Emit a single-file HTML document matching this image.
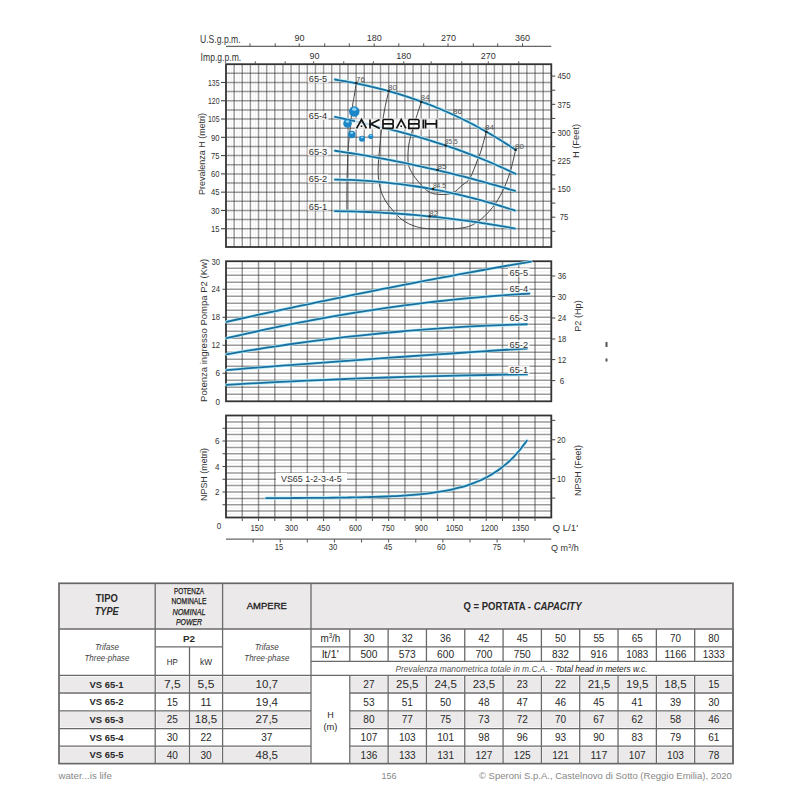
<!DOCTYPE html><html><head><meta charset="utf-8"><style>html,body{margin:0;padding:0;background:#fff;width:800px;height:800px;overflow:hidden}svg{display:block}</style></head><body>
<svg width="800" height="800" viewBox="0 0 800 800" font-family='"Liberation Sans", sans-serif'>
<rect width="800" height="800" fill="#fff"/>
<line x1="228.93" y1="64.2" x2="228.93" y2="247" stroke="#efefef" stroke-width="0.8"/>
<line x1="231.2" y1="64.2" x2="231.2" y2="247" stroke="#efefef" stroke-width="0.8"/>
<line x1="237.06" y1="64.2" x2="237.06" y2="247" stroke="#efefef" stroke-width="0.8"/>
<line x1="239.34" y1="64.2" x2="239.34" y2="247" stroke="#efefef" stroke-width="0.8"/>
<line x1="245.19" y1="64.2" x2="245.19" y2="247" stroke="#efefef" stroke-width="0.8"/>
<line x1="247.47" y1="64.2" x2="247.47" y2="247" stroke="#efefef" stroke-width="0.8"/>
<line x1="253.33" y1="64.2" x2="253.33" y2="247" stroke="#efefef" stroke-width="0.8"/>
<line x1="255.6" y1="64.2" x2="255.6" y2="247" stroke="#efefef" stroke-width="0.8"/>
<line x1="261.46" y1="64.2" x2="261.46" y2="247" stroke="#efefef" stroke-width="0.8"/>
<line x1="263.73" y1="64.2" x2="263.73" y2="247" stroke="#efefef" stroke-width="0.8"/>
<line x1="269.59" y1="64.2" x2="269.59" y2="247" stroke="#efefef" stroke-width="0.8"/>
<line x1="271.87" y1="64.2" x2="271.87" y2="247" stroke="#efefef" stroke-width="0.8"/>
<line x1="277.72" y1="64.2" x2="277.72" y2="247" stroke="#efefef" stroke-width="0.8"/>
<line x1="280" y1="64.2" x2="280" y2="247" stroke="#efefef" stroke-width="0.8"/>
<line x1="285.86" y1="64.2" x2="285.86" y2="247" stroke="#efefef" stroke-width="0.8"/>
<line x1="288.13" y1="64.2" x2="288.13" y2="247" stroke="#efefef" stroke-width="0.8"/>
<line x1="293.99" y1="64.2" x2="293.99" y2="247" stroke="#efefef" stroke-width="0.8"/>
<line x1="296.26" y1="64.2" x2="296.26" y2="247" stroke="#efefef" stroke-width="0.8"/>
<line x1="302.12" y1="64.2" x2="302.12" y2="247" stroke="#efefef" stroke-width="0.8"/>
<line x1="304.4" y1="64.2" x2="304.4" y2="247" stroke="#efefef" stroke-width="0.8"/>
<line x1="310.25" y1="64.2" x2="310.25" y2="247" stroke="#efefef" stroke-width="0.8"/>
<line x1="312.53" y1="64.2" x2="312.53" y2="247" stroke="#efefef" stroke-width="0.8"/>
<line x1="318.39" y1="64.2" x2="318.39" y2="247" stroke="#efefef" stroke-width="0.8"/>
<line x1="320.66" y1="64.2" x2="320.66" y2="247" stroke="#efefef" stroke-width="0.8"/>
<line x1="326.52" y1="64.2" x2="326.52" y2="247" stroke="#efefef" stroke-width="0.8"/>
<line x1="328.79" y1="64.2" x2="328.79" y2="247" stroke="#efefef" stroke-width="0.8"/>
<line x1="334.65" y1="64.2" x2="334.65" y2="247" stroke="#efefef" stroke-width="0.8"/>
<line x1="336.93" y1="64.2" x2="336.93" y2="247" stroke="#efefef" stroke-width="0.8"/>
<line x1="342.78" y1="64.2" x2="342.78" y2="247" stroke="#efefef" stroke-width="0.8"/>
<line x1="345.06" y1="64.2" x2="345.06" y2="247" stroke="#efefef" stroke-width="0.8"/>
<line x1="350.92" y1="64.2" x2="350.92" y2="247" stroke="#efefef" stroke-width="0.8"/>
<line x1="353.19" y1="64.2" x2="353.19" y2="247" stroke="#efefef" stroke-width="0.8"/>
<line x1="359.05" y1="64.2" x2="359.05" y2="247" stroke="#efefef" stroke-width="0.8"/>
<line x1="361.32" y1="64.2" x2="361.32" y2="247" stroke="#efefef" stroke-width="0.8"/>
<line x1="367.18" y1="64.2" x2="367.18" y2="247" stroke="#efefef" stroke-width="0.8"/>
<line x1="369.46" y1="64.2" x2="369.46" y2="247" stroke="#efefef" stroke-width="0.8"/>
<line x1="375.31" y1="64.2" x2="375.31" y2="247" stroke="#efefef" stroke-width="0.8"/>
<line x1="377.59" y1="64.2" x2="377.59" y2="247" stroke="#efefef" stroke-width="0.8"/>
<line x1="383.45" y1="64.2" x2="383.45" y2="247" stroke="#efefef" stroke-width="0.8"/>
<line x1="385.72" y1="64.2" x2="385.72" y2="247" stroke="#efefef" stroke-width="0.8"/>
<line x1="391.58" y1="64.2" x2="391.58" y2="247" stroke="#efefef" stroke-width="0.8"/>
<line x1="393.85" y1="64.2" x2="393.85" y2="247" stroke="#efefef" stroke-width="0.8"/>
<line x1="399.71" y1="64.2" x2="399.71" y2="247" stroke="#efefef" stroke-width="0.8"/>
<line x1="401.99" y1="64.2" x2="401.99" y2="247" stroke="#efefef" stroke-width="0.8"/>
<line x1="407.84" y1="64.2" x2="407.84" y2="247" stroke="#efefef" stroke-width="0.8"/>
<line x1="410.12" y1="64.2" x2="410.12" y2="247" stroke="#efefef" stroke-width="0.8"/>
<line x1="415.98" y1="64.2" x2="415.98" y2="247" stroke="#efefef" stroke-width="0.8"/>
<line x1="418.25" y1="64.2" x2="418.25" y2="247" stroke="#efefef" stroke-width="0.8"/>
<line x1="424.11" y1="64.2" x2="424.11" y2="247" stroke="#efefef" stroke-width="0.8"/>
<line x1="426.38" y1="64.2" x2="426.38" y2="247" stroke="#efefef" stroke-width="0.8"/>
<line x1="432.24" y1="64.2" x2="432.24" y2="247" stroke="#efefef" stroke-width="0.8"/>
<line x1="434.52" y1="64.2" x2="434.52" y2="247" stroke="#efefef" stroke-width="0.8"/>
<line x1="440.37" y1="64.2" x2="440.37" y2="247" stroke="#efefef" stroke-width="0.8"/>
<line x1="442.65" y1="64.2" x2="442.65" y2="247" stroke="#efefef" stroke-width="0.8"/>
<line x1="448.51" y1="64.2" x2="448.51" y2="247" stroke="#efefef" stroke-width="0.8"/>
<line x1="450.78" y1="64.2" x2="450.78" y2="247" stroke="#efefef" stroke-width="0.8"/>
<line x1="456.64" y1="64.2" x2="456.64" y2="247" stroke="#efefef" stroke-width="0.8"/>
<line x1="458.91" y1="64.2" x2="458.91" y2="247" stroke="#efefef" stroke-width="0.8"/>
<line x1="464.77" y1="64.2" x2="464.77" y2="247" stroke="#efefef" stroke-width="0.8"/>
<line x1="467.05" y1="64.2" x2="467.05" y2="247" stroke="#efefef" stroke-width="0.8"/>
<line x1="472.9" y1="64.2" x2="472.9" y2="247" stroke="#efefef" stroke-width="0.8"/>
<line x1="475.18" y1="64.2" x2="475.18" y2="247" stroke="#efefef" stroke-width="0.8"/>
<line x1="481.04" y1="64.2" x2="481.04" y2="247" stroke="#efefef" stroke-width="0.8"/>
<line x1="483.31" y1="64.2" x2="483.31" y2="247" stroke="#efefef" stroke-width="0.8"/>
<line x1="489.17" y1="64.2" x2="489.17" y2="247" stroke="#efefef" stroke-width="0.8"/>
<line x1="491.44" y1="64.2" x2="491.44" y2="247" stroke="#efefef" stroke-width="0.8"/>
<line x1="497.3" y1="64.2" x2="497.3" y2="247" stroke="#efefef" stroke-width="0.8"/>
<line x1="499.58" y1="64.2" x2="499.58" y2="247" stroke="#efefef" stroke-width="0.8"/>
<line x1="505.43" y1="64.2" x2="505.43" y2="247" stroke="#efefef" stroke-width="0.8"/>
<line x1="507.71" y1="64.2" x2="507.71" y2="247" stroke="#efefef" stroke-width="0.8"/>
<line x1="513.57" y1="64.2" x2="513.57" y2="247" stroke="#efefef" stroke-width="0.8"/>
<line x1="515.84" y1="64.2" x2="515.84" y2="247" stroke="#efefef" stroke-width="0.8"/>
<line x1="521.7" y1="64.2" x2="521.7" y2="247" stroke="#efefef" stroke-width="0.8"/>
<line x1="523.97" y1="64.2" x2="523.97" y2="247" stroke="#efefef" stroke-width="0.8"/>
<line x1="529.83" y1="64.2" x2="529.83" y2="247" stroke="#efefef" stroke-width="0.8"/>
<line x1="532.11" y1="64.2" x2="532.11" y2="247" stroke="#efefef" stroke-width="0.8"/>
<line x1="537.96" y1="64.2" x2="537.96" y2="247" stroke="#efefef" stroke-width="0.8"/>
<line x1="540.24" y1="64.2" x2="540.24" y2="247" stroke="#efefef" stroke-width="0.8"/>
<line x1="546.1" y1="64.2" x2="546.1" y2="247" stroke="#efefef" stroke-width="0.8"/>
<line x1="548.37" y1="64.2" x2="548.37" y2="247" stroke="#efefef" stroke-width="0.8"/>
<line x1="234.13" y1="64.2" x2="234.13" y2="247" stroke="#2a2a2a" stroke-width="1.5" stroke-opacity="0.47"/>
<line x1="242.26" y1="64.2" x2="242.26" y2="247" stroke="#2a2a2a" stroke-width="1.5" stroke-opacity="0.47"/>
<line x1="250.4" y1="64.2" x2="250.4" y2="247" stroke="#2a2a2a" stroke-width="1.5" stroke-opacity="0.47"/>
<line x1="258.53" y1="64.2" x2="258.53" y2="247" stroke="#2a2a2a" stroke-width="1.5" stroke-opacity="0.47"/>
<line x1="266.66" y1="64.2" x2="266.66" y2="247" stroke="#2a2a2a" stroke-width="1.5" stroke-opacity="0.47"/>
<line x1="274.79" y1="64.2" x2="274.79" y2="247" stroke="#2a2a2a" stroke-width="1.5" stroke-opacity="0.47"/>
<line x1="282.93" y1="64.2" x2="282.93" y2="247" stroke="#2a2a2a" stroke-width="1.5" stroke-opacity="0.47"/>
<line x1="291.06" y1="64.2" x2="291.06" y2="247" stroke="#2a2a2a" stroke-width="1.5" stroke-opacity="0.47"/>
<line x1="299.19" y1="64.2" x2="299.19" y2="247" stroke="#2a2a2a" stroke-width="1.5" stroke-opacity="0.47"/>
<line x1="307.32" y1="64.2" x2="307.32" y2="247" stroke="#2a2a2a" stroke-width="1.5" stroke-opacity="0.47"/>
<line x1="315.46" y1="64.2" x2="315.46" y2="247" stroke="#2a2a2a" stroke-width="1.5" stroke-opacity="0.47"/>
<line x1="323.59" y1="64.2" x2="323.59" y2="247" stroke="#2a2a2a" stroke-width="1.5" stroke-opacity="0.47"/>
<line x1="331.72" y1="64.2" x2="331.72" y2="247" stroke="#2a2a2a" stroke-width="1.5" stroke-opacity="0.47"/>
<line x1="339.85" y1="64.2" x2="339.85" y2="247" stroke="#2a2a2a" stroke-width="1.5" stroke-opacity="0.47"/>
<line x1="347.99" y1="64.2" x2="347.99" y2="247" stroke="#2a2a2a" stroke-width="1.5" stroke-opacity="0.47"/>
<line x1="356.12" y1="64.2" x2="356.12" y2="247" stroke="#2a2a2a" stroke-width="1.5" stroke-opacity="0.47"/>
<line x1="364.25" y1="64.2" x2="364.25" y2="247" stroke="#2a2a2a" stroke-width="1.5" stroke-opacity="0.47"/>
<line x1="372.38" y1="64.2" x2="372.38" y2="247" stroke="#2a2a2a" stroke-width="1.5" stroke-opacity="0.47"/>
<line x1="380.52" y1="64.2" x2="380.52" y2="247" stroke="#2a2a2a" stroke-width="1.5" stroke-opacity="0.47"/>
<line x1="388.65" y1="64.2" x2="388.65" y2="247" stroke="#2a2a2a" stroke-width="1.5" stroke-opacity="0.47"/>
<line x1="396.78" y1="64.2" x2="396.78" y2="247" stroke="#2a2a2a" stroke-width="1.5" stroke-opacity="0.47"/>
<line x1="404.91" y1="64.2" x2="404.91" y2="247" stroke="#2a2a2a" stroke-width="1.5" stroke-opacity="0.47"/>
<line x1="413.05" y1="64.2" x2="413.05" y2="247" stroke="#2a2a2a" stroke-width="1.5" stroke-opacity="0.47"/>
<line x1="421.18" y1="64.2" x2="421.18" y2="247" stroke="#2a2a2a" stroke-width="1.5" stroke-opacity="0.47"/>
<line x1="429.31" y1="64.2" x2="429.31" y2="247" stroke="#2a2a2a" stroke-width="1.5" stroke-opacity="0.47"/>
<line x1="437.44" y1="64.2" x2="437.44" y2="247" stroke="#2a2a2a" stroke-width="1.5" stroke-opacity="0.47"/>
<line x1="445.58" y1="64.2" x2="445.58" y2="247" stroke="#2a2a2a" stroke-width="1.5" stroke-opacity="0.47"/>
<line x1="453.71" y1="64.2" x2="453.71" y2="247" stroke="#2a2a2a" stroke-width="1.5" stroke-opacity="0.47"/>
<line x1="461.84" y1="64.2" x2="461.84" y2="247" stroke="#2a2a2a" stroke-width="1.5" stroke-opacity="0.47"/>
<line x1="469.97" y1="64.2" x2="469.97" y2="247" stroke="#2a2a2a" stroke-width="1.5" stroke-opacity="0.47"/>
<line x1="478.11" y1="64.2" x2="478.11" y2="247" stroke="#2a2a2a" stroke-width="1.5" stroke-opacity="0.47"/>
<line x1="486.24" y1="64.2" x2="486.24" y2="247" stroke="#2a2a2a" stroke-width="1.5" stroke-opacity="0.47"/>
<line x1="494.37" y1="64.2" x2="494.37" y2="247" stroke="#2a2a2a" stroke-width="1.5" stroke-opacity="0.47"/>
<line x1="502.5" y1="64.2" x2="502.5" y2="247" stroke="#2a2a2a" stroke-width="1.5" stroke-opacity="0.47"/>
<line x1="510.64" y1="64.2" x2="510.64" y2="247" stroke="#2a2a2a" stroke-width="1.5" stroke-opacity="0.47"/>
<line x1="518.77" y1="64.2" x2="518.77" y2="247" stroke="#2a2a2a" stroke-width="1.5" stroke-opacity="0.47"/>
<line x1="526.9" y1="64.2" x2="526.9" y2="247" stroke="#2a2a2a" stroke-width="1.5" stroke-opacity="0.47"/>
<line x1="535.03" y1="64.2" x2="535.03" y2="247" stroke="#2a2a2a" stroke-width="1.5" stroke-opacity="0.47"/>
<line x1="543.17" y1="64.2" x2="543.17" y2="247" stroke="#2a2a2a" stroke-width="1.5" stroke-opacity="0.47"/>
<line x1="226" y1="73.34" x2="551.3" y2="73.34" stroke="#2a2a2a" stroke-width="1.5" stroke-opacity="0.47"/>
<line x1="226" y1="82.48" x2="551.3" y2="82.48" stroke="#2a2a2a" stroke-width="1.5" stroke-opacity="0.47"/>
<line x1="226" y1="91.62" x2="551.3" y2="91.62" stroke="#2a2a2a" stroke-width="1.5" stroke-opacity="0.47"/>
<line x1="226" y1="100.76" x2="551.3" y2="100.76" stroke="#2a2a2a" stroke-width="1.5" stroke-opacity="0.47"/>
<line x1="226" y1="109.9" x2="551.3" y2="109.9" stroke="#2a2a2a" stroke-width="1.5" stroke-opacity="0.47"/>
<line x1="226" y1="119.04" x2="551.3" y2="119.04" stroke="#2a2a2a" stroke-width="1.5" stroke-opacity="0.47"/>
<line x1="226" y1="128.18" x2="551.3" y2="128.18" stroke="#2a2a2a" stroke-width="1.5" stroke-opacity="0.47"/>
<line x1="226" y1="137.32" x2="551.3" y2="137.32" stroke="#2a2a2a" stroke-width="1.5" stroke-opacity="0.47"/>
<line x1="226" y1="146.46" x2="551.3" y2="146.46" stroke="#2a2a2a" stroke-width="1.5" stroke-opacity="0.47"/>
<line x1="226" y1="155.6" x2="551.3" y2="155.6" stroke="#2a2a2a" stroke-width="1.5" stroke-opacity="0.47"/>
<line x1="226" y1="164.74" x2="551.3" y2="164.74" stroke="#2a2a2a" stroke-width="1.5" stroke-opacity="0.47"/>
<line x1="226" y1="173.88" x2="551.3" y2="173.88" stroke="#2a2a2a" stroke-width="1.5" stroke-opacity="0.47"/>
<line x1="226" y1="183.02" x2="551.3" y2="183.02" stroke="#2a2a2a" stroke-width="1.5" stroke-opacity="0.47"/>
<line x1="226" y1="192.16" x2="551.3" y2="192.16" stroke="#2a2a2a" stroke-width="1.5" stroke-opacity="0.47"/>
<line x1="226" y1="201.3" x2="551.3" y2="201.3" stroke="#2a2a2a" stroke-width="1.5" stroke-opacity="0.47"/>
<line x1="226" y1="210.44" x2="551.3" y2="210.44" stroke="#2a2a2a" stroke-width="1.5" stroke-opacity="0.47"/>
<line x1="226" y1="219.58" x2="551.3" y2="219.58" stroke="#2a2a2a" stroke-width="1.5" stroke-opacity="0.47"/>
<line x1="226" y1="228.72" x2="551.3" y2="228.72" stroke="#2a2a2a" stroke-width="1.5" stroke-opacity="0.47"/>
<line x1="226" y1="237.86" x2="551.3" y2="237.86" stroke="#2a2a2a" stroke-width="1.5" stroke-opacity="0.47"/>
<rect x="226" y="64.2" width="325.3" height="182.8" fill="none" stroke="#333" stroke-width="1.8"/>
<line x1="226" y1="46.4" x2="551.3" y2="46.4" stroke="#666" stroke-width="1.2"/>
<line x1="250" y1="43.3" x2="250" y2="46.4" stroke="#555" stroke-width="1.0"/>
<line x1="275.2" y1="43.3" x2="275.2" y2="46.4" stroke="#555" stroke-width="1.0"/>
<line x1="299.2" y1="43.3" x2="299.2" y2="46.4" stroke="#555" stroke-width="1.0"/>
<line x1="324.7" y1="43.3" x2="324.7" y2="46.4" stroke="#555" stroke-width="1.0"/>
<line x1="349.3" y1="43.3" x2="349.3" y2="46.4" stroke="#555" stroke-width="1.0"/>
<line x1="374.2" y1="43.3" x2="374.2" y2="46.4" stroke="#555" stroke-width="1.0"/>
<line x1="398.8" y1="43.3" x2="398.8" y2="46.4" stroke="#555" stroke-width="1.0"/>
<line x1="423.7" y1="43.3" x2="423.7" y2="46.4" stroke="#555" stroke-width="1.0"/>
<line x1="448" y1="43.3" x2="448" y2="46.4" stroke="#555" stroke-width="1.0"/>
<line x1="473.3" y1="43.3" x2="473.3" y2="46.4" stroke="#555" stroke-width="1.0"/>
<line x1="497.7" y1="43.3" x2="497.7" y2="46.4" stroke="#555" stroke-width="1.0"/>
<line x1="522.5" y1="43.3" x2="522.5" y2="46.4" stroke="#555" stroke-width="1.0"/>
<text x="299.5" y="41.2" font-size="9" text-anchor="middle" fill="#333">90</text>
<text x="374.2" y="41.2" font-size="9" text-anchor="middle" fill="#333">180</text>
<text x="448.5" y="41.2" font-size="9" text-anchor="middle" fill="#333">270</text>
<text x="522.5" y="41.2" font-size="9" text-anchor="middle" fill="#333">360</text>
<text x="200" y="43" font-size="10.3" text-anchor="start" fill="#333" textLength="40.6" lengthAdjust="spacingAndGlyphs">U.S.g.p.m.</text>
<line x1="255.25" y1="61.3" x2="255.25" y2="64.2" stroke="#555" stroke-width="1.0"/>
<line x1="285.2" y1="61.3" x2="285.2" y2="64.2" stroke="#555" stroke-width="1.0"/>
<line x1="313.7" y1="61.3" x2="313.7" y2="64.2" stroke="#555" stroke-width="1.0"/>
<line x1="343.75" y1="61.3" x2="343.75" y2="64.2" stroke="#555" stroke-width="1.0"/>
<line x1="373.3" y1="61.3" x2="373.3" y2="64.2" stroke="#555" stroke-width="1.0"/>
<line x1="403.75" y1="61.3" x2="403.75" y2="64.2" stroke="#555" stroke-width="1.0"/>
<line x1="431.2" y1="61.3" x2="431.2" y2="64.2" stroke="#555" stroke-width="1.0"/>
<line x1="461.75" y1="61.3" x2="461.75" y2="64.2" stroke="#555" stroke-width="1.0"/>
<line x1="488.3" y1="61.3" x2="488.3" y2="64.2" stroke="#555" stroke-width="1.0"/>
<line x1="518.75" y1="61.3" x2="518.75" y2="64.2" stroke="#555" stroke-width="1.0"/>
<text x="314.5" y="58.6" font-size="9" text-anchor="middle" fill="#333">90</text>
<text x="403.75" y="58.6" font-size="9" text-anchor="middle" fill="#333">180</text>
<text x="488.3" y="58.6" font-size="9" text-anchor="middle" fill="#333">270</text>
<text x="200.6" y="61.3" font-size="10" text-anchor="start" fill="#333" textLength="40.6" lengthAdjust="spacingAndGlyphs">Imp.g.p.m.</text>
<line x1="221" y1="82.48" x2="226" y2="82.48" stroke="#444" stroke-width="1.1"/>
<text x="219.5" y="85.68" font-size="8.6" text-anchor="end" fill="#333" textLength="11.5" lengthAdjust="spacingAndGlyphs">135</text>
<line x1="221" y1="100.76" x2="226" y2="100.76" stroke="#444" stroke-width="1.1"/>
<text x="219.5" y="103.96" font-size="8.6" text-anchor="end" fill="#333" textLength="11.5" lengthAdjust="spacingAndGlyphs">120</text>
<line x1="221" y1="119.04" x2="226" y2="119.04" stroke="#444" stroke-width="1.1"/>
<text x="219.5" y="122.24" font-size="8.6" text-anchor="end" fill="#333" textLength="11.5" lengthAdjust="spacingAndGlyphs">105</text>
<line x1="221" y1="137.32" x2="226" y2="137.32" stroke="#444" stroke-width="1.1"/>
<text x="219.5" y="140.52" font-size="8.6" text-anchor="end" fill="#333" textLength="8.5" lengthAdjust="spacingAndGlyphs">90</text>
<line x1="221" y1="155.6" x2="226" y2="155.6" stroke="#444" stroke-width="1.1"/>
<text x="219.5" y="158.8" font-size="8.6" text-anchor="end" fill="#333" textLength="8.5" lengthAdjust="spacingAndGlyphs">75</text>
<line x1="221" y1="173.88" x2="226" y2="173.88" stroke="#444" stroke-width="1.1"/>
<text x="219.5" y="177.08" font-size="8.6" text-anchor="end" fill="#333" textLength="8.5" lengthAdjust="spacingAndGlyphs">60</text>
<line x1="221" y1="192.16" x2="226" y2="192.16" stroke="#444" stroke-width="1.1"/>
<text x="219.5" y="195.36" font-size="8.6" text-anchor="end" fill="#333" textLength="8.5" lengthAdjust="spacingAndGlyphs">45</text>
<line x1="221" y1="210.44" x2="226" y2="210.44" stroke="#444" stroke-width="1.1"/>
<text x="219.5" y="213.64" font-size="8.6" text-anchor="end" fill="#333" textLength="8.5" lengthAdjust="spacingAndGlyphs">30</text>
<line x1="221" y1="228.72" x2="226" y2="228.72" stroke="#444" stroke-width="1.1"/>
<text x="219.5" y="231.92" font-size="8.6" text-anchor="end" fill="#333" textLength="8.5" lengthAdjust="spacingAndGlyphs">15</text>
<text x="0" y="0" font-size="9" text-anchor="middle" dominant-baseline="central" fill="#333" transform="translate(202.4,154) rotate(-90)" textLength="82" lengthAdjust="spacingAndGlyphs">Prevalenza H (metri)</text>
<line x1="551.3" y1="76.1" x2="555.3" y2="76.1" stroke="#444" stroke-width="1.0"/>
<line x1="551.3" y1="90.21" x2="555.3" y2="90.21" stroke="#444" stroke-width="1.0"/>
<line x1="551.3" y1="104.32" x2="555.3" y2="104.32" stroke="#444" stroke-width="1.0"/>
<line x1="551.3" y1="118.43" x2="555.3" y2="118.43" stroke="#444" stroke-width="1.0"/>
<line x1="551.3" y1="132.54" x2="555.3" y2="132.54" stroke="#444" stroke-width="1.0"/>
<line x1="551.3" y1="146.65" x2="555.3" y2="146.65" stroke="#444" stroke-width="1.0"/>
<line x1="551.3" y1="160.76" x2="555.3" y2="160.76" stroke="#444" stroke-width="1.0"/>
<line x1="551.3" y1="174.87" x2="555.3" y2="174.87" stroke="#444" stroke-width="1.0"/>
<line x1="551.3" y1="188.98" x2="555.3" y2="188.98" stroke="#444" stroke-width="1.0"/>
<line x1="551.3" y1="203.09" x2="555.3" y2="203.09" stroke="#444" stroke-width="1.0"/>
<line x1="551.3" y1="217.2" x2="555.3" y2="217.2" stroke="#444" stroke-width="1.0"/>
<line x1="551.3" y1="231.31" x2="555.3" y2="231.31" stroke="#444" stroke-width="1.0"/>
<text x="564" y="79.3" font-size="8.6" text-anchor="middle" fill="#333" textLength="13" lengthAdjust="spacingAndGlyphs">450</text>
<text x="564" y="107.8" font-size="8.6" text-anchor="middle" fill="#333" textLength="13" lengthAdjust="spacingAndGlyphs">375</text>
<text x="564" y="135.5" font-size="8.6" text-anchor="middle" fill="#333" textLength="13" lengthAdjust="spacingAndGlyphs">300</text>
<text x="564" y="163.95" font-size="8.6" text-anchor="middle" fill="#333" textLength="13" lengthAdjust="spacingAndGlyphs">225</text>
<text x="564" y="191.9" font-size="8.6" text-anchor="middle" fill="#333" textLength="13" lengthAdjust="spacingAndGlyphs">150</text>
<text x="564" y="220.4" font-size="8.6" text-anchor="middle" fill="#333" textLength="8.5" lengthAdjust="spacingAndGlyphs">75</text>
<text x="0" y="0" font-size="9" text-anchor="middle" dominant-baseline="central" fill="#333" transform="translate(575.8,141) rotate(-90)" textLength="34" lengthAdjust="spacingAndGlyphs">H (Feet)</text>
<path d="M356.25,83.1 C355.94,85.08 355.02,91.14 354.4,95 C353.77,98.86 353.23,100.42 352.5,106.25 C351.77,112.08 350.73,122.71 350,130 C349.27,137.29 348.57,142.5 348.1,150 C347.63,157.5 347.4,167.5 347.2,175 C347,182.5 346.95,189 346.9,195 C346.85,201 346.9,208.33 346.9,211" fill="none" stroke="#444" stroke-width="1.0"/>
<path d="M388.75,91.25 C388.12,93.96 386.14,101.67 385,107.5 C383.86,113.33 382.73,120 381.9,126.25 C381.07,132.5 380.63,137.71 380,145 C379.37,152.29 378.1,162.92 378.1,170 C378.1,177.08 378.85,182.5 380,187.5 C381.15,192.5 382.92,196.25 385,200 C387.08,203.75 389.58,206.67 392.5,210 C395.42,213.33 398.75,217.29 402.5,220 C406.25,222.71 410.42,224.79 415,226.25 C419.58,227.71 422.29,228.44 430,228.75 C437.71,229.06 453.33,229.24 461.25,228.1 C469.17,226.96 472.29,225.33 477.5,221.9 C482.71,218.47 488.33,212.61 492.5,207.5 C496.67,202.39 499.58,197.08 502.5,191.25 C505.42,185.42 507.82,179.38 510,172.5 C512.18,165.62 514.67,153.75 515.6,150" fill="none" stroke="#444" stroke-width="1.0"/>
<path d="M421.25,101.9 C420.42,104.5 417.71,112.82 416.25,117.5 C414.79,122.18 413.75,125.42 412.5,130 C411.25,134.58 409.5,140 408.75,145 C408,150 407.88,156.17 408,160 C408.12,163.83 408.33,165.08 409.5,168 C410.67,170.92 412.83,174.46 415,177.5 C417.17,180.54 420,183.75 422.5,186.25 C425,188.75 427.08,191.14 430,192.5 C432.92,193.86 436.25,194.3 440,194.4 C443.75,194.5 448.75,194.67 452.5,193.1 C456.25,191.53 459.58,187.5 462.5,185 C465.42,182.5 467.5,182.27 470,178.1 C472.5,173.93 475.62,164.68 477.5,160 C479.38,155.32 479.79,154.68 481.25,150 C482.71,145.32 485.42,134.92 486.25,131.9" fill="none" stroke="#444" stroke-width="1.0"/>
<path d="M335,211.12 C337.73,211.17 345.91,211.28 351.36,211.42 C356.82,211.56 362.27,211.75 367.73,211.98 C373.18,212.21 378.64,212.48 384.09,212.79 C389.55,213.11 395,213.46 400.45,213.86 C405.91,214.26 411.36,214.71 416.82,215.19 C422.27,215.67 427.73,216.2 433.18,216.77 C438.64,217.34 444.09,217.96 449.55,218.61 C455,219.27 460.45,219.96 465.91,220.71 C471.36,221.45 476.82,222.23 482.27,223.06 C487.73,223.88 493.18,224.75 498.64,225.66 C504.09,226.57 512.27,228.05 515,228.53" fill="none" stroke="#b0ebf8" stroke-width="3.1" stroke-linecap="round"/>
<path d="M335,211.12 C337.73,211.17 345.91,211.28 351.36,211.42 C356.82,211.56 362.27,211.75 367.73,211.98 C373.18,212.21 378.64,212.48 384.09,212.79 C389.55,213.11 395,213.46 400.45,213.86 C405.91,214.26 411.36,214.71 416.82,215.19 C422.27,215.67 427.73,216.2 433.18,216.77 C438.64,217.34 444.09,217.96 449.55,218.61 C455,219.27 460.45,219.96 465.91,220.71 C471.36,221.45 476.82,222.23 482.27,223.06 C487.73,223.88 493.18,224.75 498.64,225.66 C504.09,226.57 512.27,228.05 515,228.53" fill="none" stroke="#1b6f9f" stroke-width="1.8" stroke-linecap="round"/>
<path d="M335,179.53 C337.73,179.6 345.91,179.74 351.36,179.97 C356.82,180.2 362.27,180.5 367.73,180.89 C373.18,181.28 378.64,181.74 384.09,182.28 C389.55,182.83 395,183.45 400.45,184.15 C405.91,184.86 411.36,185.64 416.82,186.5 C422.27,187.36 427.73,188.3 433.18,189.32 C438.64,190.34 444.09,191.44 449.55,192.62 C455,193.8 460.45,195.06 465.91,196.4 C471.36,197.74 476.82,199.15 482.27,200.65 C487.73,202.15 493.18,203.72 498.64,205.38 C504.09,207.03 512.27,209.71 515,210.58" fill="none" stroke="#b0ebf8" stroke-width="3.1" stroke-linecap="round"/>
<path d="M335,179.53 C337.73,179.6 345.91,179.74 351.36,179.97 C356.82,180.2 362.27,180.5 367.73,180.89 C373.18,181.28 378.64,181.74 384.09,182.28 C389.55,182.83 395,183.45 400.45,184.15 C405.91,184.86 411.36,185.64 416.82,186.5 C422.27,187.36 427.73,188.3 433.18,189.32 C438.64,190.34 444.09,191.44 449.55,192.62 C455,193.8 460.45,195.06 465.91,196.4 C471.36,197.74 476.82,199.15 482.27,200.65 C487.73,202.15 493.18,203.72 498.64,205.38 C504.09,207.03 512.27,209.71 515,210.58" fill="none" stroke="#1b6f9f" stroke-width="1.8" stroke-linecap="round"/>
<path d="M335,150.74 C337.73,151.16 345.91,152.37 351.36,153.24 C356.82,154.12 362.27,155.03 367.73,155.98 C373.18,156.93 378.64,157.92 384.09,158.94 C389.55,159.97 395,161.03 400.45,162.14 C405.91,163.24 411.36,164.38 416.82,165.56 C422.27,166.74 427.73,167.96 433.18,169.22 C438.64,170.48 444.09,171.77 449.55,173.11 C455,174.44 460.45,175.81 465.91,177.22 C471.36,178.63 476.82,180.08 482.27,181.57 C487.73,183.06 493.18,184.59 498.64,186.15 C504.09,187.72 512.27,190.16 515,190.96" fill="none" stroke="#b0ebf8" stroke-width="3.1" stroke-linecap="round"/>
<path d="M335,150.74 C337.73,151.16 345.91,152.37 351.36,153.24 C356.82,154.12 362.27,155.03 367.73,155.98 C373.18,156.93 378.64,157.92 384.09,158.94 C389.55,159.97 395,161.03 400.45,162.14 C405.91,163.24 411.36,164.38 416.82,165.56 C422.27,166.74 427.73,167.96 433.18,169.22 C438.64,170.48 444.09,171.77 449.55,173.11 C455,174.44 460.45,175.81 465.91,177.22 C471.36,178.63 476.82,180.08 482.27,181.57 C487.73,183.06 493.18,184.59 498.64,186.15 C504.09,187.72 512.27,190.16 515,190.96" fill="none" stroke="#1b6f9f" stroke-width="1.8" stroke-linecap="round"/>
<path d="M335,116.99 C337.74,117.56 345.95,119.23 351.42,120.4 C356.89,121.57 362.36,122.77 367.84,124.02 C373.31,125.27 378.78,126.55 384.25,127.89 C389.73,129.24 395.2,130.62 400.67,132.07 C406.15,133.53 411.62,135.03 417.09,136.61 C422.56,138.18 428.04,139.82 433.51,141.54 C438.98,143.26 444.45,145.04 449.93,146.92 C455.4,148.79 460.87,150.74 466.35,152.79 C471.82,154.84 477.29,156.97 482.76,159.21 C488.24,161.44 493.71,163.77 499.18,166.21 C504.65,168.65 512.86,172.58 515.6,173.85" fill="none" stroke="#b0ebf8" stroke-width="3.1" stroke-linecap="round"/>
<path d="M335,116.99 C337.74,117.56 345.95,119.23 351.42,120.4 C356.89,121.57 362.36,122.77 367.84,124.02 C373.31,125.27 378.78,126.55 384.25,127.89 C389.73,129.24 395.2,130.62 400.67,132.07 C406.15,133.53 411.62,135.03 417.09,136.61 C422.56,138.18 428.04,139.82 433.51,141.54 C438.98,143.26 444.45,145.04 449.93,146.92 C455.4,148.79 460.87,150.74 466.35,152.79 C471.82,154.84 477.29,156.97 482.76,159.21 C488.24,161.44 493.71,163.77 499.18,166.21 C504.65,168.65 512.86,172.58 515.6,173.85" fill="none" stroke="#1b6f9f" stroke-width="1.8" stroke-linecap="round"/>
<path d="M335,79.5 C337.74,79.98 345.95,81.32 351.42,82.38 C356.89,83.43 362.36,84.57 367.84,85.83 C373.31,87.08 378.78,88.43 384.25,89.9 C389.73,91.36 395.2,92.93 400.67,94.63 C406.15,96.32 411.62,98.12 417.09,100.06 C422.56,101.99 428.04,104.05 433.51,106.24 C438.98,108.43 444.45,110.74 449.93,113.21 C455.4,115.67 460.87,118.26 466.35,121.01 C471.82,123.75 477.29,126.64 482.76,129.68 C488.24,132.73 493.71,135.92 499.18,139.27 C504.65,142.63 512.86,148.07 515.6,149.83" fill="none" stroke="#b0ebf8" stroke-width="3.1" stroke-linecap="round"/>
<path d="M335,79.5 C337.74,79.98 345.95,81.32 351.42,82.38 C356.89,83.43 362.36,84.57 367.84,85.83 C373.31,87.08 378.78,88.43 384.25,89.9 C389.73,91.36 395.2,92.93 400.67,94.63 C406.15,96.32 411.62,98.12 417.09,100.06 C422.56,101.99 428.04,104.05 433.51,106.24 C438.98,108.43 444.45,110.74 449.93,113.21 C455.4,115.67 460.87,118.26 466.35,121.01 C471.82,123.75 477.29,126.64 482.76,129.68 C488.24,132.73 493.71,135.92 499.18,139.27 C504.65,142.63 512.86,148.07 515.6,149.83" fill="none" stroke="#1b6f9f" stroke-width="1.8" stroke-linecap="round"/>
<circle cx="356.25" cy="83.1" r="1.3" fill="#222"/>
<circle cx="388.75" cy="91.25" r="1.3" fill="#222"/>
<circle cx="421.25" cy="101.9" r="1.3" fill="#222"/>
<circle cx="486.25" cy="131.9" r="1.3" fill="#222"/>
<circle cx="515.6" cy="150" r="1.3" fill="#222"/>
<circle cx="445.6" cy="145.6" r="1.3" fill="#222"/>
<circle cx="437.5" cy="170" r="1.3" fill="#222"/>
<circle cx="433.1" cy="189" r="1.3" fill="#222"/>
<circle cx="429.7" cy="216.2" r="1.3" fill="#222"/>
<text x="360.5" y="81.5" font-size="7.5" text-anchor="middle" fill="#555" textLength="9" lengthAdjust="spacingAndGlyphs">76</text>
<text x="392.5" y="90" font-size="7.5" text-anchor="middle" fill="#555" textLength="9" lengthAdjust="spacingAndGlyphs">80</text>
<text x="425" y="99.5" font-size="7.5" text-anchor="middle" fill="#555" textLength="9" lengthAdjust="spacingAndGlyphs">84</text>
<text x="457.5" y="114" font-size="7.5" text-anchor="middle" fill="#555" textLength="9" lengthAdjust="spacingAndGlyphs">86</text>
<text x="489.4" y="130" font-size="7.5" text-anchor="middle" fill="#555" textLength="9" lengthAdjust="spacingAndGlyphs">84</text>
<text x="519.4" y="148.5" font-size="7.5" text-anchor="middle" fill="#555" textLength="9" lengthAdjust="spacingAndGlyphs">80</text>
<text x="451.25" y="144" font-size="7.5" text-anchor="middle" fill="#555" textLength="13" lengthAdjust="spacingAndGlyphs">85.5</text>
<text x="441.9" y="168.5" font-size="7.5" text-anchor="middle" fill="#555" textLength="9" lengthAdjust="spacingAndGlyphs">85</text>
<text x="439.4" y="188" font-size="7.5" text-anchor="middle" fill="#555" textLength="13" lengthAdjust="spacingAndGlyphs">84.5</text>
<text x="433.75" y="215.5" font-size="7.5" text-anchor="middle" fill="#555" textLength="9" lengthAdjust="spacingAndGlyphs">82</text>
<rect x="307.5" y="73.9" width="21" height="9" fill="#fff" opacity="0.75"/>
<text x="318" y="81.7" font-size="9" text-anchor="middle" fill="#333" textLength="18.5" lengthAdjust="spacingAndGlyphs">65-5</text>
<rect x="307.5" y="111" width="21" height="9" fill="#fff" opacity="0.75"/>
<text x="318" y="118.8" font-size="9" text-anchor="middle" fill="#333" textLength="18.5" lengthAdjust="spacingAndGlyphs">65-4</text>
<rect x="307.5" y="146.75" width="21" height="9" fill="#fff" opacity="0.75"/>
<text x="318" y="154.55" font-size="9" text-anchor="middle" fill="#333" textLength="18.5" lengthAdjust="spacingAndGlyphs">65-3</text>
<rect x="307.5" y="174.25" width="21" height="9" fill="#fff" opacity="0.75"/>
<text x="318" y="182.05" font-size="9" text-anchor="middle" fill="#333" textLength="18.5" lengthAdjust="spacingAndGlyphs">65-2</text>
<rect x="307.5" y="201.75" width="21" height="9" fill="#fff" opacity="0.75"/>
<text x="318" y="209.55" font-size="9" text-anchor="middle" fill="#333" textLength="18.5" lengthAdjust="spacingAndGlyphs">65-1</text>
<rect x="355" y="118.2" width="83.5" height="11.4" fill="#fff" opacity="0.72"/>
<circle cx="354.25" cy="111.5" r="5.25" fill="#1c86c6"/>
<ellipse cx="354.25" cy="109.14" rx="2.21" ry="1.57" fill="#9fe0fa" opacity="0.85"/>
<circle cx="347.5" cy="123.5" r="4.3" fill="#1c86c6"/>
<ellipse cx="347.5" cy="121.56" rx="1.81" ry="1.29" fill="#9fe0fa" opacity="0.85"/>
<circle cx="351.75" cy="134.5" r="3.75" fill="#1c86c6"/>
<ellipse cx="351.75" cy="132.81" rx="1.57" ry="1.12" fill="#9fe0fa" opacity="0.85"/>
<circle cx="362" cy="138.75" r="3" fill="#1c86c6"/>
<ellipse cx="362" cy="137.4" rx="1.26" ry="0.9" fill="#9fe0fa" opacity="0.85"/>
<circle cx="370.75" cy="136.5" r="2.5" fill="#1c86c6"/>
<ellipse cx="370.75" cy="135.38" rx="1.05" ry="0.75" fill="#9fe0fa" opacity="0.85"/>
<path d="M356.6,128.4 L361.5,119.5 L366.4,128.4 M370,119.5 V128.4 M379.6,119.5 L370.6,123.9 L379.8,128.4 M383,119.5 H391.5 Q393.2,119.5 393.2,121.2 V122.2 Q393.2,123.9 391.5,123.9 H383 M391.5,123.9 Q393.2,123.9 393.2,125.6 V126.7 Q393.2,128.4 391.5,128.4 H383 V119.5 M396.5,128.4 L401.2,119.5 L405.9,128.4 M408.8,119.5 H417.3 Q419,119.5 419,121.2 V122.2 Q419,123.9 417.3,123.9 H408.8 M417.3,123.9 Q419,123.9 419,125.6 V126.7 Q419,128.4 417.3,128.4 H408.8 V119.5 M423.3,119.5 V128.4 M425.6,119.5 V128.4 M436.5,119.5 V128.4 M425.6,123.9 H436.5" fill="none" stroke="#141414" stroke-width="1.7" stroke-linejoin="miter"/>
<circle cx="361.5" cy="126.2" r="0.9" fill="#141414"/>
<circle cx="401.2" cy="126.2" r="0.9" fill="#141414"/>
<line x1="226" y1="264.75" x2="551.3" y2="264.75" stroke="#efefef" stroke-width="0.9"/>
<line x1="226" y1="271.75" x2="551.3" y2="271.75" stroke="#efefef" stroke-width="0.9"/>
<line x1="226" y1="278.76" x2="551.3" y2="278.76" stroke="#efefef" stroke-width="0.9"/>
<line x1="226" y1="285.76" x2="551.3" y2="285.76" stroke="#efefef" stroke-width="0.9"/>
<line x1="226" y1="292.76" x2="551.3" y2="292.76" stroke="#efefef" stroke-width="0.9"/>
<line x1="226" y1="299.76" x2="551.3" y2="299.76" stroke="#efefef" stroke-width="0.9"/>
<line x1="226" y1="306.77" x2="551.3" y2="306.77" stroke="#efefef" stroke-width="0.9"/>
<line x1="226" y1="313.77" x2="551.3" y2="313.77" stroke="#efefef" stroke-width="0.9"/>
<line x1="226" y1="320.77" x2="551.3" y2="320.77" stroke="#efefef" stroke-width="0.9"/>
<line x1="226" y1="327.77" x2="551.3" y2="327.77" stroke="#efefef" stroke-width="0.9"/>
<line x1="226" y1="334.78" x2="551.3" y2="334.78" stroke="#efefef" stroke-width="0.9"/>
<line x1="226" y1="341.78" x2="551.3" y2="341.78" stroke="#efefef" stroke-width="0.9"/>
<line x1="226" y1="348.78" x2="551.3" y2="348.78" stroke="#efefef" stroke-width="0.9"/>
<line x1="226" y1="355.78" x2="551.3" y2="355.78" stroke="#efefef" stroke-width="0.9"/>
<line x1="226" y1="362.79" x2="551.3" y2="362.79" stroke="#efefef" stroke-width="0.9"/>
<line x1="226" y1="369.79" x2="551.3" y2="369.79" stroke="#efefef" stroke-width="0.9"/>
<line x1="226" y1="376.79" x2="551.3" y2="376.79" stroke="#efefef" stroke-width="0.9"/>
<line x1="226" y1="383.79" x2="551.3" y2="383.79" stroke="#efefef" stroke-width="0.9"/>
<line x1="226" y1="390.8" x2="551.3" y2="390.8" stroke="#efefef" stroke-width="0.9"/>
<line x1="226" y1="397.8" x2="551.3" y2="397.8" stroke="#efefef" stroke-width="0.9"/>
<line x1="242.26" y1="261.25" x2="242.26" y2="401.3" stroke="#2a2a2a" stroke-width="1.5" stroke-opacity="0.47"/>
<line x1="258.53" y1="261.25" x2="258.53" y2="401.3" stroke="#2a2a2a" stroke-width="1.5" stroke-opacity="0.47"/>
<line x1="274.79" y1="261.25" x2="274.79" y2="401.3" stroke="#2a2a2a" stroke-width="1.5" stroke-opacity="0.47"/>
<line x1="291.06" y1="261.25" x2="291.06" y2="401.3" stroke="#2a2a2a" stroke-width="1.5" stroke-opacity="0.47"/>
<line x1="307.32" y1="261.25" x2="307.32" y2="401.3" stroke="#2a2a2a" stroke-width="1.5" stroke-opacity="0.47"/>
<line x1="323.59" y1="261.25" x2="323.59" y2="401.3" stroke="#2a2a2a" stroke-width="1.5" stroke-opacity="0.47"/>
<line x1="339.85" y1="261.25" x2="339.85" y2="401.3" stroke="#2a2a2a" stroke-width="1.5" stroke-opacity="0.47"/>
<line x1="356.12" y1="261.25" x2="356.12" y2="401.3" stroke="#2a2a2a" stroke-width="1.5" stroke-opacity="0.47"/>
<line x1="372.38" y1="261.25" x2="372.38" y2="401.3" stroke="#2a2a2a" stroke-width="1.5" stroke-opacity="0.47"/>
<line x1="388.65" y1="261.25" x2="388.65" y2="401.3" stroke="#2a2a2a" stroke-width="1.5" stroke-opacity="0.47"/>
<line x1="404.91" y1="261.25" x2="404.91" y2="401.3" stroke="#2a2a2a" stroke-width="1.5" stroke-opacity="0.47"/>
<line x1="421.18" y1="261.25" x2="421.18" y2="401.3" stroke="#2a2a2a" stroke-width="1.5" stroke-opacity="0.47"/>
<line x1="437.44" y1="261.25" x2="437.44" y2="401.3" stroke="#2a2a2a" stroke-width="1.5" stroke-opacity="0.47"/>
<line x1="453.71" y1="261.25" x2="453.71" y2="401.3" stroke="#2a2a2a" stroke-width="1.5" stroke-opacity="0.47"/>
<line x1="469.97" y1="261.25" x2="469.97" y2="401.3" stroke="#2a2a2a" stroke-width="1.5" stroke-opacity="0.47"/>
<line x1="486.24" y1="261.25" x2="486.24" y2="401.3" stroke="#2a2a2a" stroke-width="1.5" stroke-opacity="0.47"/>
<line x1="502.5" y1="261.25" x2="502.5" y2="401.3" stroke="#2a2a2a" stroke-width="1.5" stroke-opacity="0.47"/>
<line x1="518.77" y1="261.25" x2="518.77" y2="401.3" stroke="#2a2a2a" stroke-width="1.5" stroke-opacity="0.47"/>
<line x1="535.03" y1="261.25" x2="535.03" y2="401.3" stroke="#2a2a2a" stroke-width="1.5" stroke-opacity="0.47"/>
<line x1="226" y1="268.25" x2="551.3" y2="268.25" stroke="#2a2a2a" stroke-width="1.5" stroke-opacity="0.47"/>
<line x1="226" y1="275.25" x2="551.3" y2="275.25" stroke="#2a2a2a" stroke-width="1.5" stroke-opacity="0.47"/>
<line x1="226" y1="282.26" x2="551.3" y2="282.26" stroke="#2a2a2a" stroke-width="1.5" stroke-opacity="0.47"/>
<line x1="226" y1="289.26" x2="551.3" y2="289.26" stroke="#2a2a2a" stroke-width="1.5" stroke-opacity="0.47"/>
<line x1="226" y1="296.26" x2="551.3" y2="296.26" stroke="#2a2a2a" stroke-width="1.5" stroke-opacity="0.47"/>
<line x1="226" y1="303.26" x2="551.3" y2="303.26" stroke="#2a2a2a" stroke-width="1.5" stroke-opacity="0.47"/>
<line x1="226" y1="310.27" x2="551.3" y2="310.27" stroke="#2a2a2a" stroke-width="1.5" stroke-opacity="0.47"/>
<line x1="226" y1="317.27" x2="551.3" y2="317.27" stroke="#2a2a2a" stroke-width="1.5" stroke-opacity="0.47"/>
<line x1="226" y1="324.27" x2="551.3" y2="324.27" stroke="#2a2a2a" stroke-width="1.5" stroke-opacity="0.47"/>
<line x1="226" y1="331.27" x2="551.3" y2="331.27" stroke="#2a2a2a" stroke-width="1.5" stroke-opacity="0.47"/>
<line x1="226" y1="338.28" x2="551.3" y2="338.28" stroke="#2a2a2a" stroke-width="1.5" stroke-opacity="0.47"/>
<line x1="226" y1="345.28" x2="551.3" y2="345.28" stroke="#2a2a2a" stroke-width="1.5" stroke-opacity="0.47"/>
<line x1="226" y1="352.28" x2="551.3" y2="352.28" stroke="#2a2a2a" stroke-width="1.5" stroke-opacity="0.47"/>
<line x1="226" y1="359.29" x2="551.3" y2="359.29" stroke="#2a2a2a" stroke-width="1.5" stroke-opacity="0.47"/>
<line x1="226" y1="366.29" x2="551.3" y2="366.29" stroke="#2a2a2a" stroke-width="1.5" stroke-opacity="0.47"/>
<line x1="226" y1="373.29" x2="551.3" y2="373.29" stroke="#2a2a2a" stroke-width="1.5" stroke-opacity="0.47"/>
<line x1="226" y1="380.29" x2="551.3" y2="380.29" stroke="#2a2a2a" stroke-width="1.5" stroke-opacity="0.47"/>
<line x1="226" y1="387.3" x2="551.3" y2="387.3" stroke="#2a2a2a" stroke-width="1.5" stroke-opacity="0.47"/>
<line x1="226" y1="394.3" x2="551.3" y2="394.3" stroke="#2a2a2a" stroke-width="1.5" stroke-opacity="0.47"/>
<rect x="226" y="261.25" width="325.3" height="140.05" fill="none" stroke="#333" stroke-width="1.8"/>
<text x="220" y="264.95" font-size="8.6" text-anchor="end" fill="#333" textLength="8.5" lengthAdjust="spacingAndGlyphs">30</text>
<line x1="222.5" y1="289.26" x2="226" y2="289.26" stroke="#444" stroke-width="1.0"/>
<text x="220" y="292.46" font-size="8.6" text-anchor="end" fill="#333" textLength="8.5" lengthAdjust="spacingAndGlyphs">24</text>
<line x1="222.5" y1="317.27" x2="226" y2="317.27" stroke="#444" stroke-width="1.0"/>
<text x="220" y="320.47" font-size="8.6" text-anchor="end" fill="#333" textLength="8.5" lengthAdjust="spacingAndGlyphs">18</text>
<line x1="222.5" y1="345.28" x2="226" y2="345.28" stroke="#444" stroke-width="1.0"/>
<text x="220" y="348.48" font-size="8.6" text-anchor="end" fill="#333" textLength="8.5" lengthAdjust="spacingAndGlyphs">12</text>
<line x1="222.5" y1="373.29" x2="226" y2="373.29" stroke="#444" stroke-width="1.0"/>
<text x="220" y="376.49" font-size="8.6" text-anchor="end" fill="#333" textLength="4.5" lengthAdjust="spacingAndGlyphs">6</text>
<text x="220" y="404.5" font-size="8.6" text-anchor="end" fill="#333" textLength="4.5" lengthAdjust="spacingAndGlyphs">0</text>
<text x="0" y="0" font-size="9" text-anchor="middle" dominant-baseline="central" fill="#333" transform="translate(204,330.4) rotate(-90)" textLength="143" lengthAdjust="spacingAndGlyphs">Potenza ingresso Pompa P2 (Kw)</text>
<line x1="551.3" y1="276" x2="555.3" y2="276" stroke="#444" stroke-width="1.0"/>
<text x="562" y="279.2" font-size="8.6" text-anchor="middle" fill="#333" textLength="8.5" lengthAdjust="spacingAndGlyphs">36</text>
<line x1="551.3" y1="296.6" x2="555.3" y2="296.6" stroke="#444" stroke-width="1.0"/>
<text x="562" y="299.8" font-size="8.6" text-anchor="middle" fill="#333" textLength="8.5" lengthAdjust="spacingAndGlyphs">30</text>
<line x1="551.3" y1="318" x2="555.3" y2="318" stroke="#444" stroke-width="1.0"/>
<text x="562" y="321.2" font-size="8.6" text-anchor="middle" fill="#333" textLength="8.5" lengthAdjust="spacingAndGlyphs">24</text>
<line x1="551.3" y1="339" x2="555.3" y2="339" stroke="#444" stroke-width="1.0"/>
<text x="562" y="342.2" font-size="8.6" text-anchor="middle" fill="#333" textLength="8.5" lengthAdjust="spacingAndGlyphs">18</text>
<line x1="551.3" y1="359.6" x2="555.3" y2="359.6" stroke="#444" stroke-width="1.0"/>
<text x="562" y="362.8" font-size="8.6" text-anchor="middle" fill="#333" textLength="8.5" lengthAdjust="spacingAndGlyphs">12</text>
<line x1="551.3" y1="380.6" x2="555.3" y2="380.6" stroke="#444" stroke-width="1.0"/>
<text x="562" y="383.8" font-size="8.6" text-anchor="middle" fill="#333" textLength="4.5" lengthAdjust="spacingAndGlyphs">6</text>
<text x="0" y="0" font-size="9" text-anchor="middle" dominant-baseline="central" fill="#333" transform="translate(577.8,316) rotate(-90)" textLength="31.5" lengthAdjust="spacingAndGlyphs">P2 (Hp)</text>
<path d="M226.5,384.82 C229.84,384.63 239.86,384.05 246.53,383.69 C253.21,383.32 259.89,382.96 266.57,382.61 C273.24,382.27 279.92,381.93 286.6,381.6 C293.28,381.28 299.96,380.96 306.63,380.66 C313.31,380.35 319.99,380.06 326.67,379.78 C333.34,379.49 340.02,379.22 346.7,378.96 C353.38,378.69 360.06,378.44 366.73,378.2 C373.41,377.96 380.09,377.73 386.77,377.51 C393.44,377.29 400.12,377.08 406.8,376.88 C413.48,376.68 420.16,376.49 426.83,376.31 C433.51,376.13 440.19,375.96 446.87,375.81 C453.54,375.65 460.22,375.5 466.9,375.37 C473.58,375.23 480.26,375.1 486.93,374.99 C493.61,374.87 500.29,374.77 506.97,374.68 C513.64,374.58 523.66,374.47 527,374.43" fill="none" stroke="#b0ebf8" stroke-width="3.1" stroke-linecap="round"/>
<path d="M226.5,384.82 C229.84,384.63 239.86,384.05 246.53,383.69 C253.21,383.32 259.89,382.96 266.57,382.61 C273.24,382.27 279.92,381.93 286.6,381.6 C293.28,381.28 299.96,380.96 306.63,380.66 C313.31,380.35 319.99,380.06 326.67,379.78 C333.34,379.49 340.02,379.22 346.7,378.96 C353.38,378.69 360.06,378.44 366.73,378.2 C373.41,377.96 380.09,377.73 386.77,377.51 C393.44,377.29 400.12,377.08 406.8,376.88 C413.48,376.68 420.16,376.49 426.83,376.31 C433.51,376.13 440.19,375.96 446.87,375.81 C453.54,375.65 460.22,375.5 466.9,375.37 C473.58,375.23 480.26,375.1 486.93,374.99 C493.61,374.87 500.29,374.77 506.97,374.68 C513.64,374.58 523.66,374.47 527,374.43" fill="none" stroke="#1b6f9f" stroke-width="1.8" stroke-linecap="round"/>
<path d="M226.5,370.06 C229.84,369.79 239.86,368.99 246.53,368.46 C253.21,367.94 259.89,367.41 266.57,366.89 C273.24,366.37 279.92,365.85 286.6,365.34 C293.28,364.83 299.96,364.32 306.63,363.81 C313.31,363.31 319.99,362.81 326.67,362.31 C333.34,361.81 340.02,361.32 346.7,360.83 C353.38,360.34 360.06,359.85 366.73,359.37 C373.41,358.88 380.09,358.4 386.77,357.93 C393.44,357.45 400.12,356.98 406.8,356.51 C413.48,356.04 420.16,355.58 426.83,355.12 C433.51,354.66 440.19,354.2 446.87,353.74 C453.54,353.29 460.22,352.84 466.9,352.4 C473.58,351.95 480.26,351.51 486.93,351.07 C493.61,350.63 500.29,350.19 506.97,349.76 C513.64,349.33 523.66,348.69 527,348.48" fill="none" stroke="#b0ebf8" stroke-width="3.1" stroke-linecap="round"/>
<path d="M226.5,370.06 C229.84,369.79 239.86,368.99 246.53,368.46 C253.21,367.94 259.89,367.41 266.57,366.89 C273.24,366.37 279.92,365.85 286.6,365.34 C293.28,364.83 299.96,364.32 306.63,363.81 C313.31,363.31 319.99,362.81 326.67,362.31 C333.34,361.81 340.02,361.32 346.7,360.83 C353.38,360.34 360.06,359.85 366.73,359.37 C373.41,358.88 380.09,358.4 386.77,357.93 C393.44,357.45 400.12,356.98 406.8,356.51 C413.48,356.04 420.16,355.58 426.83,355.12 C433.51,354.66 440.19,354.2 446.87,353.74 C453.54,353.29 460.22,352.84 466.9,352.4 C473.58,351.95 480.26,351.51 486.93,351.07 C493.61,350.63 500.29,350.19 506.97,349.76 C513.64,349.33 523.66,348.69 527,348.48" fill="none" stroke="#1b6f9f" stroke-width="1.8" stroke-linecap="round"/>
<path d="M226.5,354.27 C229.84,353.71 239.86,351.99 246.53,350.9 C253.21,349.81 259.89,348.75 266.57,347.72 C273.24,346.69 279.92,345.7 286.6,344.74 C293.28,343.78 299.96,342.85 306.63,341.95 C313.31,341.06 319.99,340.19 326.67,339.36 C333.34,338.53 340.02,337.74 346.7,336.97 C353.38,336.21 360.06,335.47 366.73,334.77 C373.41,334.07 380.09,333.4 386.77,332.77 C393.44,332.14 400.12,331.53 406.8,330.96 C413.48,330.39 420.16,329.86 426.83,329.35 C433.51,328.85 440.19,328.38 446.87,327.94 C453.54,327.5 460.22,327.09 466.9,326.72 C473.58,326.34 480.26,326 486.93,325.7 C493.61,325.39 500.29,325.11 506.97,324.87 C513.64,324.62 523.66,324.34 527,324.24" fill="none" stroke="#b0ebf8" stroke-width="3.1" stroke-linecap="round"/>
<path d="M226.5,354.27 C229.84,353.71 239.86,351.99 246.53,350.9 C253.21,349.81 259.89,348.75 266.57,347.72 C273.24,346.69 279.92,345.7 286.6,344.74 C293.28,343.78 299.96,342.85 306.63,341.95 C313.31,341.06 319.99,340.19 326.67,339.36 C333.34,338.53 340.02,337.74 346.7,336.97 C353.38,336.21 360.06,335.47 366.73,334.77 C373.41,334.07 380.09,333.4 386.77,332.77 C393.44,332.14 400.12,331.53 406.8,330.96 C413.48,330.39 420.16,329.86 426.83,329.35 C433.51,328.85 440.19,328.38 446.87,327.94 C453.54,327.5 460.22,327.09 466.9,326.72 C473.58,326.34 480.26,326 486.93,325.7 C493.61,325.39 500.29,325.11 506.97,324.87 C513.64,324.62 523.66,324.34 527,324.24" fill="none" stroke="#1b6f9f" stroke-width="1.8" stroke-linecap="round"/>
<path d="M226.5,338.22 C229.87,337.45 239.96,335.08 246.69,333.58 C253.42,332.07 260.16,330.6 266.89,329.16 C273.62,327.73 280.35,326.34 287.08,324.99 C293.81,323.64 300.54,322.33 307.27,321.06 C314,319.79 320.74,318.55 327.47,317.36 C334.2,316.17 340.93,315.02 347.66,313.9 C354.39,312.79 361.12,311.72 367.85,310.68 C374.58,309.65 381.32,308.66 388.05,307.7 C394.78,306.75 401.51,305.83 408.24,304.96 C414.97,304.08 421.7,303.25 428.43,302.45 C435.16,301.66 441.9,300.9 448.63,300.19 C455.36,299.47 462.09,298.79 468.82,298.16 C475.55,297.52 482.28,296.92 489.01,296.37 C495.74,295.81 502.48,295.29 509.21,294.81 C515.94,294.33 526.03,293.72 529.4,293.5" fill="none" stroke="#b0ebf8" stroke-width="3.1" stroke-linecap="round"/>
<path d="M226.5,338.22 C229.87,337.45 239.96,335.08 246.69,333.58 C253.42,332.07 260.16,330.6 266.89,329.16 C273.62,327.73 280.35,326.34 287.08,324.99 C293.81,323.64 300.54,322.33 307.27,321.06 C314,319.79 320.74,318.55 327.47,317.36 C334.2,316.17 340.93,315.02 347.66,313.9 C354.39,312.79 361.12,311.72 367.85,310.68 C374.58,309.65 381.32,308.66 388.05,307.7 C394.78,306.75 401.51,305.83 408.24,304.96 C414.97,304.08 421.7,303.25 428.43,302.45 C435.16,301.66 441.9,300.9 448.63,300.19 C455.36,299.47 462.09,298.79 468.82,298.16 C475.55,297.52 482.28,296.92 489.01,296.37 C495.74,295.81 502.48,295.29 509.21,294.81 C515.94,294.33 526.03,293.72 529.4,293.5" fill="none" stroke="#1b6f9f" stroke-width="1.8" stroke-linecap="round"/>
<path d="M226.5,321.84 C229.88,321.09 240.03,318.83 246.8,317.34 C253.57,315.85 260.33,314.38 267.1,312.91 C273.87,311.45 280.63,309.99 287.4,308.55 C294.17,307.11 300.93,305.68 307.7,304.26 C314.47,302.84 321.23,301.43 328,300.03 C334.77,298.63 341.53,297.25 348.3,295.87 C355.07,294.5 361.83,293.14 368.6,291.79 C375.37,290.43 382.13,289.09 388.9,287.77 C395.67,286.44 402.43,285.12 409.2,283.81 C415.97,282.51 422.73,281.21 429.5,279.93 C436.27,278.65 443.03,277.38 449.8,276.12 C456.57,274.86 463.33,273.61 470.1,272.37 C476.87,271.13 483.63,269.91 490.4,268.69 C497.17,267.48 503.93,266.27 510.7,265.08 C517.47,263.89 527.62,262.13 531,261.54" fill="none" stroke="#b0ebf8" stroke-width="3.1" stroke-linecap="round"/>
<path d="M226.5,321.84 C229.88,321.09 240.03,318.83 246.8,317.34 C253.57,315.85 260.33,314.38 267.1,312.91 C273.87,311.45 280.63,309.99 287.4,308.55 C294.17,307.11 300.93,305.68 307.7,304.26 C314.47,302.84 321.23,301.43 328,300.03 C334.77,298.63 341.53,297.25 348.3,295.87 C355.07,294.5 361.83,293.14 368.6,291.79 C375.37,290.43 382.13,289.09 388.9,287.77 C395.67,286.44 402.43,285.12 409.2,283.81 C415.97,282.51 422.73,281.21 429.5,279.93 C436.27,278.65 443.03,277.38 449.8,276.12 C456.57,274.86 463.33,273.61 470.1,272.37 C476.87,271.13 483.63,269.91 490.4,268.69 C497.17,267.48 503.93,266.27 510.7,265.08 C517.47,263.89 527.62,262.13 531,261.54" fill="none" stroke="#1b6f9f" stroke-width="1.8" stroke-linecap="round"/>
<rect x="508" y="268" width="21.5" height="8.4" fill="#fff" opacity="0.8"/>
<text x="518.8" y="275.5" font-size="9" text-anchor="middle" fill="#333" textLength="18.5" lengthAdjust="spacingAndGlyphs">65-5</text>
<rect x="508" y="284.1" width="21.5" height="8.4" fill="#fff" opacity="0.8"/>
<text x="518.8" y="291.6" font-size="9" text-anchor="middle" fill="#333" textLength="18.5" lengthAdjust="spacingAndGlyphs">65-4</text>
<rect x="508" y="313.8" width="21.5" height="8.4" fill="#fff" opacity="0.8"/>
<text x="518.8" y="321.3" font-size="9" text-anchor="middle" fill="#333" textLength="18.5" lengthAdjust="spacingAndGlyphs">65-3</text>
<rect x="508" y="340.1" width="21.5" height="8.4" fill="#fff" opacity="0.8"/>
<text x="518.8" y="347.6" font-size="9" text-anchor="middle" fill="#333" textLength="18.5" lengthAdjust="spacingAndGlyphs">65-2</text>
<rect x="508" y="365.55" width="21.5" height="8.4" fill="#fff" opacity="0.8"/>
<text x="518.8" y="373.05" font-size="9" text-anchor="middle" fill="#333" textLength="18.5" lengthAdjust="spacingAndGlyphs">65-1</text>
<line x1="226" y1="418.69" x2="551.3" y2="418.69" stroke="#efefef" stroke-width="0.9"/>
<line x1="226" y1="425.06" x2="551.3" y2="425.06" stroke="#efefef" stroke-width="0.9"/>
<line x1="226" y1="431.44" x2="551.3" y2="431.44" stroke="#efefef" stroke-width="0.9"/>
<line x1="226" y1="437.81" x2="551.3" y2="437.81" stroke="#efefef" stroke-width="0.9"/>
<line x1="226" y1="444.19" x2="551.3" y2="444.19" stroke="#efefef" stroke-width="0.9"/>
<line x1="226" y1="450.56" x2="551.3" y2="450.56" stroke="#efefef" stroke-width="0.9"/>
<line x1="226" y1="456.94" x2="551.3" y2="456.94" stroke="#efefef" stroke-width="0.9"/>
<line x1="226" y1="463.31" x2="551.3" y2="463.31" stroke="#efefef" stroke-width="0.9"/>
<line x1="226" y1="469.69" x2="551.3" y2="469.69" stroke="#efefef" stroke-width="0.9"/>
<line x1="226" y1="476.06" x2="551.3" y2="476.06" stroke="#efefef" stroke-width="0.9"/>
<line x1="226" y1="482.44" x2="551.3" y2="482.44" stroke="#efefef" stroke-width="0.9"/>
<line x1="226" y1="488.81" x2="551.3" y2="488.81" stroke="#efefef" stroke-width="0.9"/>
<line x1="226" y1="495.19" x2="551.3" y2="495.19" stroke="#efefef" stroke-width="0.9"/>
<line x1="226" y1="501.56" x2="551.3" y2="501.56" stroke="#efefef" stroke-width="0.9"/>
<line x1="226" y1="507.94" x2="551.3" y2="507.94" stroke="#efefef" stroke-width="0.9"/>
<line x1="226" y1="514.31" x2="551.3" y2="514.31" stroke="#efefef" stroke-width="0.9"/>
<line x1="242.26" y1="415.5" x2="242.26" y2="517.5" stroke="#2a2a2a" stroke-width="1.5" stroke-opacity="0.47"/>
<line x1="258.53" y1="415.5" x2="258.53" y2="517.5" stroke="#2a2a2a" stroke-width="1.5" stroke-opacity="0.47"/>
<line x1="274.79" y1="415.5" x2="274.79" y2="517.5" stroke="#2a2a2a" stroke-width="1.5" stroke-opacity="0.47"/>
<line x1="291.06" y1="415.5" x2="291.06" y2="517.5" stroke="#2a2a2a" stroke-width="1.5" stroke-opacity="0.47"/>
<line x1="307.32" y1="415.5" x2="307.32" y2="517.5" stroke="#2a2a2a" stroke-width="1.5" stroke-opacity="0.47"/>
<line x1="323.59" y1="415.5" x2="323.59" y2="517.5" stroke="#2a2a2a" stroke-width="1.5" stroke-opacity="0.47"/>
<line x1="339.85" y1="415.5" x2="339.85" y2="517.5" stroke="#2a2a2a" stroke-width="1.5" stroke-opacity="0.47"/>
<line x1="356.12" y1="415.5" x2="356.12" y2="517.5" stroke="#2a2a2a" stroke-width="1.5" stroke-opacity="0.47"/>
<line x1="372.38" y1="415.5" x2="372.38" y2="517.5" stroke="#2a2a2a" stroke-width="1.5" stroke-opacity="0.47"/>
<line x1="388.65" y1="415.5" x2="388.65" y2="517.5" stroke="#2a2a2a" stroke-width="1.5" stroke-opacity="0.47"/>
<line x1="404.91" y1="415.5" x2="404.91" y2="517.5" stroke="#2a2a2a" stroke-width="1.5" stroke-opacity="0.47"/>
<line x1="421.18" y1="415.5" x2="421.18" y2="517.5" stroke="#2a2a2a" stroke-width="1.5" stroke-opacity="0.47"/>
<line x1="437.44" y1="415.5" x2="437.44" y2="517.5" stroke="#2a2a2a" stroke-width="1.5" stroke-opacity="0.47"/>
<line x1="453.71" y1="415.5" x2="453.71" y2="517.5" stroke="#2a2a2a" stroke-width="1.5" stroke-opacity="0.47"/>
<line x1="469.97" y1="415.5" x2="469.97" y2="517.5" stroke="#2a2a2a" stroke-width="1.5" stroke-opacity="0.47"/>
<line x1="486.24" y1="415.5" x2="486.24" y2="517.5" stroke="#2a2a2a" stroke-width="1.5" stroke-opacity="0.47"/>
<line x1="502.5" y1="415.5" x2="502.5" y2="517.5" stroke="#2a2a2a" stroke-width="1.5" stroke-opacity="0.47"/>
<line x1="518.77" y1="415.5" x2="518.77" y2="517.5" stroke="#2a2a2a" stroke-width="1.5" stroke-opacity="0.47"/>
<line x1="535.03" y1="415.5" x2="535.03" y2="517.5" stroke="#2a2a2a" stroke-width="1.5" stroke-opacity="0.47"/>
<line x1="226" y1="421.88" x2="551.3" y2="421.88" stroke="#2a2a2a" stroke-width="1.5" stroke-opacity="0.47"/>
<line x1="226" y1="428.25" x2="551.3" y2="428.25" stroke="#2a2a2a" stroke-width="1.5" stroke-opacity="0.47"/>
<line x1="226" y1="434.62" x2="551.3" y2="434.62" stroke="#2a2a2a" stroke-width="1.5" stroke-opacity="0.47"/>
<line x1="226" y1="441" x2="551.3" y2="441" stroke="#2a2a2a" stroke-width="1.5" stroke-opacity="0.47"/>
<line x1="226" y1="447.38" x2="551.3" y2="447.38" stroke="#2a2a2a" stroke-width="1.5" stroke-opacity="0.47"/>
<line x1="226" y1="453.75" x2="551.3" y2="453.75" stroke="#2a2a2a" stroke-width="1.5" stroke-opacity="0.47"/>
<line x1="226" y1="460.12" x2="551.3" y2="460.12" stroke="#2a2a2a" stroke-width="1.5" stroke-opacity="0.47"/>
<line x1="226" y1="466.5" x2="551.3" y2="466.5" stroke="#2a2a2a" stroke-width="1.5" stroke-opacity="0.47"/>
<line x1="226" y1="472.88" x2="551.3" y2="472.88" stroke="#2a2a2a" stroke-width="1.5" stroke-opacity="0.47"/>
<line x1="226" y1="479.25" x2="551.3" y2="479.25" stroke="#2a2a2a" stroke-width="1.5" stroke-opacity="0.47"/>
<line x1="226" y1="485.62" x2="551.3" y2="485.62" stroke="#2a2a2a" stroke-width="1.5" stroke-opacity="0.47"/>
<line x1="226" y1="492" x2="551.3" y2="492" stroke="#2a2a2a" stroke-width="1.5" stroke-opacity="0.47"/>
<line x1="226" y1="498.38" x2="551.3" y2="498.38" stroke="#2a2a2a" stroke-width="1.5" stroke-opacity="0.47"/>
<line x1="226" y1="504.75" x2="551.3" y2="504.75" stroke="#2a2a2a" stroke-width="1.5" stroke-opacity="0.47"/>
<line x1="226" y1="511.12" x2="551.3" y2="511.12" stroke="#2a2a2a" stroke-width="1.5" stroke-opacity="0.47"/>
<rect x="226" y="415.5" width="325.3" height="102" fill="none" stroke="#333" stroke-width="1.8"/>
<line x1="222.5" y1="504.75" x2="226" y2="504.75" stroke="#444" stroke-width="1.0"/>
<line x1="222.5" y1="492" x2="226" y2="492" stroke="#444" stroke-width="1.0"/>
<line x1="222.5" y1="479.25" x2="226" y2="479.25" stroke="#444" stroke-width="1.0"/>
<line x1="222.5" y1="466.5" x2="226" y2="466.5" stroke="#444" stroke-width="1.0"/>
<line x1="222.5" y1="453.75" x2="226" y2="453.75" stroke="#444" stroke-width="1.0"/>
<line x1="222.5" y1="441" x2="226" y2="441" stroke="#444" stroke-width="1.0"/>
<line x1="222.5" y1="428.25" x2="226" y2="428.25" stroke="#444" stroke-width="1.0"/>
<text x="219.5" y="444.2" font-size="8.6" text-anchor="end" fill="#333" textLength="4.5" lengthAdjust="spacingAndGlyphs">6</text>
<text x="219.5" y="469.7" font-size="8.6" text-anchor="end" fill="#333" textLength="4.5" lengthAdjust="spacingAndGlyphs">4</text>
<text x="219.5" y="495.2" font-size="8.6" text-anchor="end" fill="#333" textLength="4.5" lengthAdjust="spacingAndGlyphs">2</text>
<text x="219" y="528.5" font-size="8.6" text-anchor="middle" fill="#333" textLength="4.5" lengthAdjust="spacingAndGlyphs">0</text>
<text x="0" y="0" font-size="9" text-anchor="middle" dominant-baseline="central" fill="#333" transform="translate(203.8,474.5) rotate(-90)" textLength="53" lengthAdjust="spacingAndGlyphs">NPSH (metri)</text>
<line x1="551.3" y1="498.07" x2="555.3" y2="498.07" stroke="#444" stroke-width="1.0"/>
<line x1="551.3" y1="478.64" x2="555.3" y2="478.64" stroke="#444" stroke-width="1.0"/>
<line x1="551.3" y1="459.21" x2="555.3" y2="459.21" stroke="#444" stroke-width="1.0"/>
<line x1="551.3" y1="439.78" x2="555.3" y2="439.78" stroke="#444" stroke-width="1.0"/>
<line x1="551.3" y1="420.35" x2="555.3" y2="420.35" stroke="#444" stroke-width="1.0"/>
<text x="561.3" y="443.2" font-size="8.6" text-anchor="middle" fill="#333" textLength="8.5" lengthAdjust="spacingAndGlyphs">20</text>
<text x="561.3" y="482" font-size="8.6" text-anchor="middle" fill="#333" textLength="8.5" lengthAdjust="spacingAndGlyphs">10</text>
<text x="0" y="0" font-size="9" text-anchor="middle" dominant-baseline="central" fill="#333" transform="translate(578,470.5) rotate(-90)" textLength="51" lengthAdjust="spacingAndGlyphs">NPSH (Feet)</text>
<rect x="276" y="473" width="71" height="11" fill="#fff"/>
<text x="281" y="482.2" font-size="9" text-anchor="start" fill="#333" textLength="60.75" lengthAdjust="spacingAndGlyphs">VS65 1-2-3-4-5</text>
<path d="M266.1,498.1 C267.21,498.1 270.56,498.09 272.79,498.09 C275.02,498.08 277.25,498.08 279.47,498.07 C281.7,498.06 283.93,498.06 286.16,498.05 C288.39,498.04 290.62,498.03 292.85,498.02 C295.08,498.01 297.31,498 299.54,497.99 C301.76,497.98 303.99,497.97 306.22,497.96 C308.45,497.95 310.68,497.93 312.91,497.92 C315.14,497.9 317.37,497.89 319.6,497.87 C321.83,497.85 324.06,497.83 326.28,497.81 C328.51,497.79 330.74,497.77 332.97,497.74 C335.2,497.72 337.43,497.69 339.66,497.66 C341.89,497.64 344.12,497.6 346.35,497.57 C348.58,497.54 350.8,497.5 353.03,497.46 C355.26,497.42 357.49,497.37 359.72,497.32 C361.95,497.28 364.18,497.22 366.41,497.17 C368.64,497.11 370.87,497.05 373.09,496.98 C375.32,496.91 377.55,496.84 379.78,496.76 C382.01,496.68 384.24,496.59 386.47,496.5 C388.7,496.41 390.93,496.3 393.16,496.19 C395.39,496.08 397.61,495.96 399.84,495.83 C402.07,495.69 404.3,495.55 406.53,495.4 C408.76,495.24 410.99,495.07 413.22,494.88 C415.45,494.7 417.68,494.5 419.91,494.28 C422.13,494.06 424.36,493.83 426.59,493.57 C428.82,493.31 431.05,493.03 433.28,492.72 C435.51,492.41 437.74,492.08 439.97,491.72 C442.2,491.36 444.42,490.97 446.65,490.54 C448.88,490.1 451.11,489.64 453.34,489.13 C455.57,488.62 457.8,488.08 460.03,487.48 C462.26,486.87 464.49,486.23 466.72,485.52 C468.94,484.8 471.17,484.04 473.4,483.2 C475.63,482.35 477.86,481.45 480.09,480.45 C482.32,479.45 484.55,478.38 486.78,477.2 C489.01,476.02 491.24,474.76 493.46,473.36 C495.69,471.96 497.92,470.47 500.15,468.81 C502.38,467.16 504.61,465.39 506.84,463.43 C509.07,461.47 511.3,459.38 513.53,457.06 C515.75,454.75 517.98,452.27 520.21,449.53 C522.44,446.79 525.79,442.1 526.9,440.62" fill="none" stroke="#b0ebf8" stroke-width="3.1" stroke-linecap="round"/>
<path d="M266.1,498.1 C267.21,498.1 270.56,498.09 272.79,498.09 C275.02,498.08 277.25,498.08 279.47,498.07 C281.7,498.06 283.93,498.06 286.16,498.05 C288.39,498.04 290.62,498.03 292.85,498.02 C295.08,498.01 297.31,498 299.54,497.99 C301.76,497.98 303.99,497.97 306.22,497.96 C308.45,497.95 310.68,497.93 312.91,497.92 C315.14,497.9 317.37,497.89 319.6,497.87 C321.83,497.85 324.06,497.83 326.28,497.81 C328.51,497.79 330.74,497.77 332.97,497.74 C335.2,497.72 337.43,497.69 339.66,497.66 C341.89,497.64 344.12,497.6 346.35,497.57 C348.58,497.54 350.8,497.5 353.03,497.46 C355.26,497.42 357.49,497.37 359.72,497.32 C361.95,497.28 364.18,497.22 366.41,497.17 C368.64,497.11 370.87,497.05 373.09,496.98 C375.32,496.91 377.55,496.84 379.78,496.76 C382.01,496.68 384.24,496.59 386.47,496.5 C388.7,496.41 390.93,496.3 393.16,496.19 C395.39,496.08 397.61,495.96 399.84,495.83 C402.07,495.69 404.3,495.55 406.53,495.4 C408.76,495.24 410.99,495.07 413.22,494.88 C415.45,494.7 417.68,494.5 419.91,494.28 C422.13,494.06 424.36,493.83 426.59,493.57 C428.82,493.31 431.05,493.03 433.28,492.72 C435.51,492.41 437.74,492.08 439.97,491.72 C442.2,491.36 444.42,490.97 446.65,490.54 C448.88,490.1 451.11,489.64 453.34,489.13 C455.57,488.62 457.8,488.08 460.03,487.48 C462.26,486.87 464.49,486.23 466.72,485.52 C468.94,484.8 471.17,484.04 473.4,483.2 C475.63,482.35 477.86,481.45 480.09,480.45 C482.32,479.45 484.55,478.38 486.78,477.2 C489.01,476.02 491.24,474.76 493.46,473.36 C495.69,471.96 497.92,470.47 500.15,468.81 C502.38,467.16 504.61,465.39 506.84,463.43 C509.07,461.47 511.3,459.38 513.53,457.06 C515.75,454.75 517.98,452.27 520.21,449.53 C522.44,446.79 525.79,442.1 526.9,440.62" fill="none" stroke="#1b6f9f" stroke-width="1.8" stroke-linecap="round"/>
<line x1="242.26" y1="517.5" x2="242.26" y2="521" stroke="#555" stroke-width="1.0"/>
<line x1="258.53" y1="517.5" x2="258.53" y2="521" stroke="#555" stroke-width="1.0"/>
<line x1="274.79" y1="517.5" x2="274.79" y2="521" stroke="#555" stroke-width="1.0"/>
<line x1="291.06" y1="517.5" x2="291.06" y2="521" stroke="#555" stroke-width="1.0"/>
<line x1="307.32" y1="517.5" x2="307.32" y2="521" stroke="#555" stroke-width="1.0"/>
<line x1="323.59" y1="517.5" x2="323.59" y2="521" stroke="#555" stroke-width="1.0"/>
<line x1="339.85" y1="517.5" x2="339.85" y2="521" stroke="#555" stroke-width="1.0"/>
<line x1="356.12" y1="517.5" x2="356.12" y2="521" stroke="#555" stroke-width="1.0"/>
<line x1="372.38" y1="517.5" x2="372.38" y2="521" stroke="#555" stroke-width="1.0"/>
<line x1="388.65" y1="517.5" x2="388.65" y2="521" stroke="#555" stroke-width="1.0"/>
<line x1="404.91" y1="517.5" x2="404.91" y2="521" stroke="#555" stroke-width="1.0"/>
<line x1="421.18" y1="517.5" x2="421.18" y2="521" stroke="#555" stroke-width="1.0"/>
<line x1="437.44" y1="517.5" x2="437.44" y2="521" stroke="#555" stroke-width="1.0"/>
<line x1="453.71" y1="517.5" x2="453.71" y2="521" stroke="#555" stroke-width="1.0"/>
<line x1="469.97" y1="517.5" x2="469.97" y2="521" stroke="#555" stroke-width="1.0"/>
<line x1="486.24" y1="517.5" x2="486.24" y2="521" stroke="#555" stroke-width="1.0"/>
<line x1="502.5" y1="517.5" x2="502.5" y2="521" stroke="#555" stroke-width="1.0"/>
<line x1="518.77" y1="517.5" x2="518.77" y2="521" stroke="#555" stroke-width="1.0"/>
<line x1="535.03" y1="517.5" x2="535.03" y2="521" stroke="#555" stroke-width="1.0"/>
<text x="257" y="530.6" font-size="8.6" text-anchor="middle" fill="#333" textLength="13" lengthAdjust="spacingAndGlyphs">150</text>
<text x="291.5" y="530.6" font-size="8.6" text-anchor="middle" fill="#333" textLength="13" lengthAdjust="spacingAndGlyphs">300</text>
<text x="323.5" y="530.6" font-size="8.6" text-anchor="middle" fill="#333" textLength="13" lengthAdjust="spacingAndGlyphs">450</text>
<text x="355.4" y="530.6" font-size="8.6" text-anchor="middle" fill="#333" textLength="13" lengthAdjust="spacingAndGlyphs">600</text>
<text x="388.1" y="530.6" font-size="8.6" text-anchor="middle" fill="#333" textLength="13" lengthAdjust="spacingAndGlyphs">750</text>
<text x="421.25" y="530.6" font-size="8.6" text-anchor="middle" fill="#333" textLength="13" lengthAdjust="spacingAndGlyphs">900</text>
<text x="454.5" y="530.6" font-size="8.6" text-anchor="middle" fill="#333" textLength="17.5" lengthAdjust="spacingAndGlyphs">1050</text>
<text x="489.5" y="530.6" font-size="8.6" text-anchor="middle" fill="#333" textLength="17.5" lengthAdjust="spacingAndGlyphs">1200</text>
<text x="520.5" y="530.6" font-size="8.6" text-anchor="middle" fill="#333" textLength="17.5" lengthAdjust="spacingAndGlyphs">1350</text>
<text x="552.5" y="531" font-size="9" text-anchor="start" fill="#333" textLength="25.5" lengthAdjust="spacingAndGlyphs">Q L/1'</text>
<line x1="226" y1="539.2" x2="551.3" y2="539.2" stroke="#666" stroke-width="1.2"/>
<line x1="253.11" y1="539.2" x2="253.11" y2="542.5" stroke="#555" stroke-width="1.0"/>
<line x1="280.22" y1="539.2" x2="280.22" y2="542.5" stroke="#555" stroke-width="1.0"/>
<line x1="307.32" y1="539.2" x2="307.32" y2="542.5" stroke="#555" stroke-width="1.0"/>
<line x1="334.43" y1="539.2" x2="334.43" y2="542.5" stroke="#555" stroke-width="1.0"/>
<line x1="361.54" y1="539.2" x2="361.54" y2="542.5" stroke="#555" stroke-width="1.0"/>
<line x1="388.65" y1="539.2" x2="388.65" y2="542.5" stroke="#555" stroke-width="1.0"/>
<line x1="415.76" y1="539.2" x2="415.76" y2="542.5" stroke="#555" stroke-width="1.0"/>
<line x1="442.87" y1="539.2" x2="442.87" y2="542.5" stroke="#555" stroke-width="1.0"/>
<line x1="469.97" y1="539.2" x2="469.97" y2="542.5" stroke="#555" stroke-width="1.0"/>
<line x1="497.08" y1="539.2" x2="497.08" y2="542.5" stroke="#555" stroke-width="1.0"/>
<line x1="524.19" y1="539.2" x2="524.19" y2="542.5" stroke="#555" stroke-width="1.0"/>
<text x="278.9" y="550.2" font-size="8.6" text-anchor="middle" fill="#333" textLength="8.5" lengthAdjust="spacingAndGlyphs">15</text>
<text x="333" y="550.2" font-size="8.6" text-anchor="middle" fill="#333" textLength="8.5" lengthAdjust="spacingAndGlyphs">30</text>
<text x="388.1" y="550.2" font-size="8.6" text-anchor="middle" fill="#333" textLength="8.5" lengthAdjust="spacingAndGlyphs">45</text>
<text x="441.25" y="550.2" font-size="8.6" text-anchor="middle" fill="#333" textLength="8.5" lengthAdjust="spacingAndGlyphs">60</text>
<text x="497" y="550.2" font-size="8.6" text-anchor="middle" fill="#333" textLength="8.5" lengthAdjust="spacingAndGlyphs">75</text>
<text x="551" y="550.5" font-size="9" text-anchor="start" fill="#333">Q m<tspan font-size="6" dy="-3">3</tspan><tspan dy="3">/h</tspan></text>
<rect x="605.5" y="342" width="2" height="5" fill="#555"/>
<rect x="605.5" y="358.5" width="2" height="3" fill="#555"/>
<rect x="59.0" y="583.3" width="674.0" height="45.700000000000045" fill="#ebe9e9"/>
<rect x="60.2" y="676.6" width="93.8" height="15.2" fill="#ebe9e9"/>
<rect x="156.4" y="676.6" width="31.9" height="15.2" fill="#ebe9e9"/>
<rect x="190.7" y="676.6" width="30.7" height="15.2" fill="#ebe9e9"/>
<rect x="223.8" y="676.6" width="86" height="15.2" fill="#ebe9e9"/>
<rect x="351" y="676.6" width="35.92" height="15.2" fill="#ebe9e9"/>
<rect x="389.32" y="676.6" width="35.92" height="15.2" fill="#ebe9e9"/>
<rect x="427.64" y="676.6" width="35.92" height="15.2" fill="#ebe9e9"/>
<rect x="465.96" y="676.6" width="35.92" height="15.2" fill="#ebe9e9"/>
<rect x="504.28" y="676.6" width="35.92" height="15.2" fill="#ebe9e9"/>
<rect x="542.6" y="676.6" width="35.92" height="15.2" fill="#ebe9e9"/>
<rect x="580.92" y="676.6" width="35.92" height="15.2" fill="#ebe9e9"/>
<rect x="619.24" y="676.6" width="35.92" height="15.2" fill="#ebe9e9"/>
<rect x="657.56" y="676.6" width="35.92" height="15.2" fill="#ebe9e9"/>
<rect x="695.88" y="676.6" width="35.92" height="15.2" fill="#ebe9e9"/>
<rect x="60.2" y="712" width="93.8" height="15.4" fill="#ebe9e9"/>
<rect x="156.4" y="712" width="31.9" height="15.4" fill="#ebe9e9"/>
<rect x="190.7" y="712" width="30.7" height="15.4" fill="#ebe9e9"/>
<rect x="223.8" y="712" width="86" height="15.4" fill="#ebe9e9"/>
<rect x="351" y="712" width="35.92" height="15.4" fill="#ebe9e9"/>
<rect x="389.32" y="712" width="35.92" height="15.4" fill="#ebe9e9"/>
<rect x="427.64" y="712" width="35.92" height="15.4" fill="#ebe9e9"/>
<rect x="465.96" y="712" width="35.92" height="15.4" fill="#ebe9e9"/>
<rect x="504.28" y="712" width="35.92" height="15.4" fill="#ebe9e9"/>
<rect x="542.6" y="712" width="35.92" height="15.4" fill="#ebe9e9"/>
<rect x="580.92" y="712" width="35.92" height="15.4" fill="#ebe9e9"/>
<rect x="619.24" y="712" width="35.92" height="15.4" fill="#ebe9e9"/>
<rect x="657.56" y="712" width="35.92" height="15.4" fill="#ebe9e9"/>
<rect x="695.88" y="712" width="35.92" height="15.4" fill="#ebe9e9"/>
<rect x="60.2" y="747.4" width="93.8" height="15" fill="#ebe9e9"/>
<rect x="156.4" y="747.4" width="31.9" height="15" fill="#ebe9e9"/>
<rect x="190.7" y="747.4" width="30.7" height="15" fill="#ebe9e9"/>
<rect x="223.8" y="747.4" width="86" height="15" fill="#ebe9e9"/>
<rect x="351" y="747.4" width="35.92" height="15" fill="#ebe9e9"/>
<rect x="389.32" y="747.4" width="35.92" height="15" fill="#ebe9e9"/>
<rect x="427.64" y="747.4" width="35.92" height="15" fill="#ebe9e9"/>
<rect x="465.96" y="747.4" width="35.92" height="15" fill="#ebe9e9"/>
<rect x="504.28" y="747.4" width="35.92" height="15" fill="#ebe9e9"/>
<rect x="542.6" y="747.4" width="35.92" height="15" fill="#ebe9e9"/>
<rect x="580.92" y="747.4" width="35.92" height="15" fill="#ebe9e9"/>
<rect x="619.24" y="747.4" width="35.92" height="15" fill="#ebe9e9"/>
<rect x="657.56" y="747.4" width="35.92" height="15" fill="#ebe9e9"/>
<rect x="695.88" y="747.4" width="35.92" height="15" fill="#ebe9e9"/>
<rect x="59.0" y="583.3" width="674.0" height="180.30000000000007" fill="none" stroke="#666" stroke-width="1.7"/>
<line x1="59" y1="629" x2="733" y2="629" stroke="#6a6a6a" stroke-width="1.3"/>
<line x1="155.2" y1="583.3" x2="155.2" y2="763.6" stroke="#6a6a6a" stroke-width="1.3"/>
<line x1="222.6" y1="583.3" x2="222.6" y2="763.6" stroke="#6a6a6a" stroke-width="1.3"/>
<line x1="311" y1="583.3" x2="311" y2="763.6" stroke="#6a6a6a" stroke-width="1.3"/>
<line x1="155.2" y1="646.8" x2="222.6" y2="646.8" stroke="#6a6a6a" stroke-width="1.3"/>
<line x1="189.5" y1="646.8" x2="189.5" y2="763.6" stroke="#6a6a6a" stroke-width="1.3"/>
<line x1="59" y1="675.4" x2="311" y2="675.4" stroke="#6a6a6a" stroke-width="1.3"/>
<line x1="311" y1="646.8" x2="733" y2="646.8" stroke="#6a6a6a" stroke-width="1.3"/>
<line x1="311" y1="661.3" x2="733" y2="661.3" stroke="#6a6a6a" stroke-width="1.3"/>
<line x1="311" y1="675.4" x2="733" y2="675.4" stroke="#6a6a6a" stroke-width="1.3"/>
<line x1="349.8" y1="629" x2="349.8" y2="661.3" stroke="#6a6a6a" stroke-width="1.3"/>
<line x1="349.8" y1="675.4" x2="349.8" y2="763.6" stroke="#6a6a6a" stroke-width="1.3"/>
<line x1="388.12" y1="629" x2="388.12" y2="661.3" stroke="#6a6a6a" stroke-width="1.3"/>
<line x1="388.12" y1="675.4" x2="388.12" y2="763.6" stroke="#6a6a6a" stroke-width="1.3"/>
<line x1="426.44" y1="629" x2="426.44" y2="661.3" stroke="#6a6a6a" stroke-width="1.3"/>
<line x1="426.44" y1="675.4" x2="426.44" y2="763.6" stroke="#6a6a6a" stroke-width="1.3"/>
<line x1="464.76" y1="629" x2="464.76" y2="661.3" stroke="#6a6a6a" stroke-width="1.3"/>
<line x1="464.76" y1="675.4" x2="464.76" y2="763.6" stroke="#6a6a6a" stroke-width="1.3"/>
<line x1="503.08" y1="629" x2="503.08" y2="661.3" stroke="#6a6a6a" stroke-width="1.3"/>
<line x1="503.08" y1="675.4" x2="503.08" y2="763.6" stroke="#6a6a6a" stroke-width="1.3"/>
<line x1="541.4" y1="629" x2="541.4" y2="661.3" stroke="#6a6a6a" stroke-width="1.3"/>
<line x1="541.4" y1="675.4" x2="541.4" y2="763.6" stroke="#6a6a6a" stroke-width="1.3"/>
<line x1="579.72" y1="629" x2="579.72" y2="661.3" stroke="#6a6a6a" stroke-width="1.3"/>
<line x1="579.72" y1="675.4" x2="579.72" y2="763.6" stroke="#6a6a6a" stroke-width="1.3"/>
<line x1="618.04" y1="629" x2="618.04" y2="661.3" stroke="#6a6a6a" stroke-width="1.3"/>
<line x1="618.04" y1="675.4" x2="618.04" y2="763.6" stroke="#6a6a6a" stroke-width="1.3"/>
<line x1="656.36" y1="629" x2="656.36" y2="661.3" stroke="#6a6a6a" stroke-width="1.3"/>
<line x1="656.36" y1="675.4" x2="656.36" y2="763.6" stroke="#6a6a6a" stroke-width="1.3"/>
<line x1="694.68" y1="629" x2="694.68" y2="661.3" stroke="#6a6a6a" stroke-width="1.3"/>
<line x1="694.68" y1="675.4" x2="694.68" y2="763.6" stroke="#6a6a6a" stroke-width="1.3"/>
<line x1="733" y1="629" x2="733" y2="661.3" stroke="#6a6a6a" stroke-width="1.3"/>
<line x1="733" y1="675.4" x2="733" y2="763.6" stroke="#6a6a6a" stroke-width="1.3"/>
<line x1="59" y1="693" x2="311" y2="693" stroke="#6a6a6a" stroke-width="1.3"/>
<line x1="349.8" y1="693" x2="733" y2="693" stroke="#6a6a6a" stroke-width="1.3"/>
<line x1="59" y1="710.8" x2="311" y2="710.8" stroke="#6a6a6a" stroke-width="1.3"/>
<line x1="349.8" y1="710.8" x2="733" y2="710.8" stroke="#6a6a6a" stroke-width="1.3"/>
<line x1="59" y1="728.6" x2="311" y2="728.6" stroke="#6a6a6a" stroke-width="1.3"/>
<line x1="349.8" y1="728.6" x2="733" y2="728.6" stroke="#6a6a6a" stroke-width="1.3"/>
<line x1="59" y1="746.2" x2="311" y2="746.2" stroke="#6a6a6a" stroke-width="1.3"/>
<line x1="349.8" y1="746.2" x2="733" y2="746.2" stroke="#6a6a6a" stroke-width="1.3"/>
<text x="106.75" y="602" font-size="10" text-anchor="middle" fill="#2a2a2a" font-weight="bold" textLength="22" lengthAdjust="spacingAndGlyphs">TIPO</text>
<text x="106.75" y="614.5" font-size="10" text-anchor="middle" fill="#2a2a2a" font-weight="bold" font-style="italic" textLength="24" lengthAdjust="spacingAndGlyphs">TYPE</text>
<text x="189" y="594.2" font-size="9" text-anchor="middle" fill="#1a1a1a" textLength="30" lengthAdjust="spacingAndGlyphs" stroke="#1a1a1a" stroke-width="0.25">POTENZA</text>
<text x="189" y="604.4" font-size="9" text-anchor="middle" fill="#1a1a1a" textLength="35" lengthAdjust="spacingAndGlyphs" stroke="#1a1a1a" stroke-width="0.25">NOMINALE</text>
<text x="189" y="614.6" font-size="9" text-anchor="middle" fill="#1a1a1a" font-style="italic" textLength="33" lengthAdjust="spacingAndGlyphs" stroke="#1a1a1a" stroke-width="0.25">NOMINAL</text>
<text x="189" y="625" font-size="9" text-anchor="middle" fill="#1a1a1a" font-style="italic" textLength="26" lengthAdjust="spacingAndGlyphs" stroke="#1a1a1a" stroke-width="0.25">POWER</text>
<text x="266.8" y="609" font-size="9.3" text-anchor="middle" fill="#1a1a1a" textLength="40" lengthAdjust="spacingAndGlyphs" stroke="#1a1a1a" stroke-width="0.3">AMPERE</text>
<text x="522.5" y="610" font-size="10" text-anchor="middle" fill="#2a2a2a" font-weight="bold" textLength="118" lengthAdjust="spacingAndGlyphs">Q = PORTATA - <tspan font-style="italic">CAPACITY</tspan></text>
<text x="188.9" y="642" font-size="9.5" text-anchor="middle" fill="#2a2a2a" font-weight="bold" textLength="12" lengthAdjust="spacingAndGlyphs">P2</text>
<text x="107" y="650" font-size="8.5" text-anchor="middle" fill="#444" font-style="italic" textLength="24" lengthAdjust="spacingAndGlyphs">Trifase</text>
<text x="107" y="660.5" font-size="8.5" text-anchor="middle" fill="#444" font-style="italic" textLength="45" lengthAdjust="spacingAndGlyphs">Three-phase</text>
<text x="266.8" y="650" font-size="8.5" text-anchor="middle" fill="#444" font-style="italic" textLength="24" lengthAdjust="spacingAndGlyphs">Trifase</text>
<text x="266.8" y="660.5" font-size="8.5" text-anchor="middle" fill="#444" font-style="italic" textLength="45" lengthAdjust="spacingAndGlyphs">Three-phase</text>
<text x="172.3" y="664.5" font-size="9" text-anchor="middle" fill="#2a2a2a" textLength="11" lengthAdjust="spacingAndGlyphs">HP</text>
<text x="206" y="664.5" font-size="9" text-anchor="middle" fill="#2a2a2a" textLength="12" lengthAdjust="spacingAndGlyphs">kW</text>
<text x="330.4" y="641.5" font-size="10.5" text-anchor="middle" fill="#2a2a2a" textLength="20" lengthAdjust="spacingAndGlyphs">m<tspan font-size="6.5" dy="-3.5">3</tspan><tspan dy="3.5">/h</tspan></text>
<text x="330.4" y="657.8" font-size="10.5" text-anchor="middle" fill="#2a2a2a" textLength="17" lengthAdjust="spacingAndGlyphs">lt/1'</text>
<text x="368.96" y="641.9" font-size="10.5" text-anchor="middle" fill="#2a2a2a" textLength="11" lengthAdjust="spacingAndGlyphs">30</text>
<text x="368.96" y="658.1" font-size="10.5" text-anchor="middle" fill="#2a2a2a" textLength="17" lengthAdjust="spacingAndGlyphs">500</text>
<text x="407.28" y="641.9" font-size="10.5" text-anchor="middle" fill="#2a2a2a" textLength="11" lengthAdjust="spacingAndGlyphs">32</text>
<text x="407.28" y="658.1" font-size="10.5" text-anchor="middle" fill="#2a2a2a" textLength="17" lengthAdjust="spacingAndGlyphs">573</text>
<text x="445.6" y="641.9" font-size="10.5" text-anchor="middle" fill="#2a2a2a" textLength="11" lengthAdjust="spacingAndGlyphs">36</text>
<text x="445.6" y="658.1" font-size="10.5" text-anchor="middle" fill="#2a2a2a" textLength="17" lengthAdjust="spacingAndGlyphs">600</text>
<text x="483.92" y="641.9" font-size="10.5" text-anchor="middle" fill="#2a2a2a" textLength="11" lengthAdjust="spacingAndGlyphs">42</text>
<text x="483.92" y="658.1" font-size="10.5" text-anchor="middle" fill="#2a2a2a" textLength="17" lengthAdjust="spacingAndGlyphs">700</text>
<text x="522.24" y="641.9" font-size="10.5" text-anchor="middle" fill="#2a2a2a" textLength="11" lengthAdjust="spacingAndGlyphs">45</text>
<text x="522.24" y="658.1" font-size="10.5" text-anchor="middle" fill="#2a2a2a" textLength="17" lengthAdjust="spacingAndGlyphs">750</text>
<text x="560.56" y="641.9" font-size="10.5" text-anchor="middle" fill="#2a2a2a" textLength="11" lengthAdjust="spacingAndGlyphs">50</text>
<text x="560.56" y="658.1" font-size="10.5" text-anchor="middle" fill="#2a2a2a" textLength="17" lengthAdjust="spacingAndGlyphs">832</text>
<text x="598.88" y="641.9" font-size="10.5" text-anchor="middle" fill="#2a2a2a" textLength="11" lengthAdjust="spacingAndGlyphs">55</text>
<text x="598.88" y="658.1" font-size="10.5" text-anchor="middle" fill="#2a2a2a" textLength="17" lengthAdjust="spacingAndGlyphs">916</text>
<text x="637.2" y="641.9" font-size="10.5" text-anchor="middle" fill="#2a2a2a" textLength="11" lengthAdjust="spacingAndGlyphs">65</text>
<text x="637.2" y="658.1" font-size="10.5" text-anchor="middle" fill="#2a2a2a" textLength="22" lengthAdjust="spacingAndGlyphs">1083</text>
<text x="675.52" y="641.9" font-size="10.5" text-anchor="middle" fill="#2a2a2a" textLength="11" lengthAdjust="spacingAndGlyphs">70</text>
<text x="675.52" y="658.1" font-size="10.5" text-anchor="middle" fill="#2a2a2a" textLength="22" lengthAdjust="spacingAndGlyphs">1166</text>
<text x="713.84" y="641.9" font-size="10.5" text-anchor="middle" fill="#2a2a2a" textLength="11" lengthAdjust="spacingAndGlyphs">80</text>
<text x="713.84" y="658.1" font-size="10.5" text-anchor="middle" fill="#2a2a2a" textLength="22" lengthAdjust="spacingAndGlyphs">1333</text>
<text x="521.5" y="671.5" font-size="8.5" text-anchor="middle" fill="#555" font-style="italic" textLength="252" lengthAdjust="spacingAndGlyphs">Prevalenza manometrica totale in m.C.A. - <tspan fill="#222" font-style="italic">Total head in meters w.c.</tspan></text>
<text x="106.5" y="687.6" font-size="9.5" text-anchor="middle" fill="#2a2a2a" font-weight="bold" textLength="34" lengthAdjust="spacingAndGlyphs">VS 65-1</text>
<text x="172.3" y="687.8" font-size="10.5" text-anchor="middle" fill="#2a2a2a" textLength="16.8" lengthAdjust="spacingAndGlyphs">7,5</text>
<text x="206" y="687.8" font-size="10.5" text-anchor="middle" fill="#2a2a2a" textLength="16.8" lengthAdjust="spacingAndGlyphs">5,5</text>
<text x="266.8" y="687.8" font-size="10.5" text-anchor="middle" fill="#2a2a2a" textLength="22.4" lengthAdjust="spacingAndGlyphs">10,7</text>
<text x="368.96" y="687.8" font-size="10.5" text-anchor="middle" fill="#2a2a2a" textLength="11.2" lengthAdjust="spacingAndGlyphs">27</text>
<text x="407.28" y="687.8" font-size="10.5" text-anchor="middle" fill="#2a2a2a" textLength="22.4" lengthAdjust="spacingAndGlyphs">25,5</text>
<text x="445.6" y="687.8" font-size="10.5" text-anchor="middle" fill="#2a2a2a" textLength="22.4" lengthAdjust="spacingAndGlyphs">24,5</text>
<text x="483.92" y="687.8" font-size="10.5" text-anchor="middle" fill="#2a2a2a" textLength="22.4" lengthAdjust="spacingAndGlyphs">23,5</text>
<text x="522.24" y="687.8" font-size="10.5" text-anchor="middle" fill="#2a2a2a" textLength="11.2" lengthAdjust="spacingAndGlyphs">23</text>
<text x="560.56" y="687.8" font-size="10.5" text-anchor="middle" fill="#2a2a2a" textLength="11.2" lengthAdjust="spacingAndGlyphs">22</text>
<text x="598.88" y="687.8" font-size="10.5" text-anchor="middle" fill="#2a2a2a" textLength="22.4" lengthAdjust="spacingAndGlyphs">21,5</text>
<text x="637.2" y="687.8" font-size="10.5" text-anchor="middle" fill="#2a2a2a" textLength="22.4" lengthAdjust="spacingAndGlyphs">19,5</text>
<text x="675.52" y="687.8" font-size="10.5" text-anchor="middle" fill="#2a2a2a" textLength="22.4" lengthAdjust="spacingAndGlyphs">18,5</text>
<text x="713.84" y="687.8" font-size="10.5" text-anchor="middle" fill="#2a2a2a" textLength="11.2" lengthAdjust="spacingAndGlyphs">15</text>
<text x="106.5" y="705.3" font-size="9.5" text-anchor="middle" fill="#2a2a2a" font-weight="bold" textLength="34" lengthAdjust="spacingAndGlyphs">VS 65-2</text>
<text x="172.3" y="705.5" font-size="10.5" text-anchor="middle" fill="#2a2a2a" textLength="11.2" lengthAdjust="spacingAndGlyphs">15</text>
<text x="206" y="705.5" font-size="10.5" text-anchor="middle" fill="#2a2a2a" textLength="11.2" lengthAdjust="spacingAndGlyphs">11</text>
<text x="266.8" y="705.5" font-size="10.5" text-anchor="middle" fill="#2a2a2a" textLength="22.4" lengthAdjust="spacingAndGlyphs">19,4</text>
<text x="368.96" y="705.5" font-size="10.5" text-anchor="middle" fill="#2a2a2a" textLength="11.2" lengthAdjust="spacingAndGlyphs">53</text>
<text x="407.28" y="705.5" font-size="10.5" text-anchor="middle" fill="#2a2a2a" textLength="11.2" lengthAdjust="spacingAndGlyphs">51</text>
<text x="445.6" y="705.5" font-size="10.5" text-anchor="middle" fill="#2a2a2a" textLength="11.2" lengthAdjust="spacingAndGlyphs">50</text>
<text x="483.92" y="705.5" font-size="10.5" text-anchor="middle" fill="#2a2a2a" textLength="11.2" lengthAdjust="spacingAndGlyphs">48</text>
<text x="522.24" y="705.5" font-size="10.5" text-anchor="middle" fill="#2a2a2a" textLength="11.2" lengthAdjust="spacingAndGlyphs">47</text>
<text x="560.56" y="705.5" font-size="10.5" text-anchor="middle" fill="#2a2a2a" textLength="11.2" lengthAdjust="spacingAndGlyphs">46</text>
<text x="598.88" y="705.5" font-size="10.5" text-anchor="middle" fill="#2a2a2a" textLength="11.2" lengthAdjust="spacingAndGlyphs">45</text>
<text x="637.2" y="705.5" font-size="10.5" text-anchor="middle" fill="#2a2a2a" textLength="11.2" lengthAdjust="spacingAndGlyphs">41</text>
<text x="675.52" y="705.5" font-size="10.5" text-anchor="middle" fill="#2a2a2a" textLength="11.2" lengthAdjust="spacingAndGlyphs">39</text>
<text x="713.84" y="705.5" font-size="10.5" text-anchor="middle" fill="#2a2a2a" textLength="11.2" lengthAdjust="spacingAndGlyphs">30</text>
<text x="106.5" y="723.1" font-size="9.5" text-anchor="middle" fill="#2a2a2a" font-weight="bold" textLength="34" lengthAdjust="spacingAndGlyphs">VS 65-3</text>
<text x="172.3" y="723.3" font-size="10.5" text-anchor="middle" fill="#2a2a2a" textLength="11.2" lengthAdjust="spacingAndGlyphs">25</text>
<text x="206" y="723.3" font-size="10.5" text-anchor="middle" fill="#2a2a2a" textLength="22.4" lengthAdjust="spacingAndGlyphs">18,5</text>
<text x="266.8" y="723.3" font-size="10.5" text-anchor="middle" fill="#2a2a2a" textLength="22.4" lengthAdjust="spacingAndGlyphs">27,5</text>
<text x="368.96" y="723.3" font-size="10.5" text-anchor="middle" fill="#2a2a2a" textLength="11.2" lengthAdjust="spacingAndGlyphs">80</text>
<text x="407.28" y="723.3" font-size="10.5" text-anchor="middle" fill="#2a2a2a" textLength="11.2" lengthAdjust="spacingAndGlyphs">77</text>
<text x="445.6" y="723.3" font-size="10.5" text-anchor="middle" fill="#2a2a2a" textLength="11.2" lengthAdjust="spacingAndGlyphs">75</text>
<text x="483.92" y="723.3" font-size="10.5" text-anchor="middle" fill="#2a2a2a" textLength="11.2" lengthAdjust="spacingAndGlyphs">73</text>
<text x="522.24" y="723.3" font-size="10.5" text-anchor="middle" fill="#2a2a2a" textLength="11.2" lengthAdjust="spacingAndGlyphs">72</text>
<text x="560.56" y="723.3" font-size="10.5" text-anchor="middle" fill="#2a2a2a" textLength="11.2" lengthAdjust="spacingAndGlyphs">70</text>
<text x="598.88" y="723.3" font-size="10.5" text-anchor="middle" fill="#2a2a2a" textLength="11.2" lengthAdjust="spacingAndGlyphs">67</text>
<text x="637.2" y="723.3" font-size="10.5" text-anchor="middle" fill="#2a2a2a" textLength="11.2" lengthAdjust="spacingAndGlyphs">62</text>
<text x="675.52" y="723.3" font-size="10.5" text-anchor="middle" fill="#2a2a2a" textLength="11.2" lengthAdjust="spacingAndGlyphs">58</text>
<text x="713.84" y="723.3" font-size="10.5" text-anchor="middle" fill="#2a2a2a" textLength="11.2" lengthAdjust="spacingAndGlyphs">46</text>
<text x="106.5" y="740.8" font-size="9.5" text-anchor="middle" fill="#2a2a2a" font-weight="bold" textLength="34" lengthAdjust="spacingAndGlyphs">VS 65-4</text>
<text x="172.3" y="741" font-size="10.5" text-anchor="middle" fill="#2a2a2a" textLength="11.2" lengthAdjust="spacingAndGlyphs">30</text>
<text x="206" y="741" font-size="10.5" text-anchor="middle" fill="#2a2a2a" textLength="11.2" lengthAdjust="spacingAndGlyphs">22</text>
<text x="266.8" y="741" font-size="10.5" text-anchor="middle" fill="#2a2a2a" textLength="11.2" lengthAdjust="spacingAndGlyphs">37</text>
<text x="368.96" y="741" font-size="10.5" text-anchor="middle" fill="#2a2a2a" textLength="16.8" lengthAdjust="spacingAndGlyphs">107</text>
<text x="407.28" y="741" font-size="10.5" text-anchor="middle" fill="#2a2a2a" textLength="16.8" lengthAdjust="spacingAndGlyphs">103</text>
<text x="445.6" y="741" font-size="10.5" text-anchor="middle" fill="#2a2a2a" textLength="16.8" lengthAdjust="spacingAndGlyphs">101</text>
<text x="483.92" y="741" font-size="10.5" text-anchor="middle" fill="#2a2a2a" textLength="11.2" lengthAdjust="spacingAndGlyphs">98</text>
<text x="522.24" y="741" font-size="10.5" text-anchor="middle" fill="#2a2a2a" textLength="11.2" lengthAdjust="spacingAndGlyphs">96</text>
<text x="560.56" y="741" font-size="10.5" text-anchor="middle" fill="#2a2a2a" textLength="11.2" lengthAdjust="spacingAndGlyphs">93</text>
<text x="598.88" y="741" font-size="10.5" text-anchor="middle" fill="#2a2a2a" textLength="11.2" lengthAdjust="spacingAndGlyphs">90</text>
<text x="637.2" y="741" font-size="10.5" text-anchor="middle" fill="#2a2a2a" textLength="11.2" lengthAdjust="spacingAndGlyphs">83</text>
<text x="675.52" y="741" font-size="10.5" text-anchor="middle" fill="#2a2a2a" textLength="11.2" lengthAdjust="spacingAndGlyphs">79</text>
<text x="713.84" y="741" font-size="10.5" text-anchor="middle" fill="#2a2a2a" textLength="11.2" lengthAdjust="spacingAndGlyphs">61</text>
<text x="106.5" y="758.3" font-size="9.5" text-anchor="middle" fill="#2a2a2a" font-weight="bold" textLength="34" lengthAdjust="spacingAndGlyphs">VS 65-5</text>
<text x="172.3" y="758.5" font-size="10.5" text-anchor="middle" fill="#2a2a2a" textLength="11.2" lengthAdjust="spacingAndGlyphs">40</text>
<text x="206" y="758.5" font-size="10.5" text-anchor="middle" fill="#2a2a2a" textLength="11.2" lengthAdjust="spacingAndGlyphs">30</text>
<text x="266.8" y="758.5" font-size="10.5" text-anchor="middle" fill="#2a2a2a" textLength="22.4" lengthAdjust="spacingAndGlyphs">48,5</text>
<text x="368.96" y="758.5" font-size="10.5" text-anchor="middle" fill="#2a2a2a" textLength="16.8" lengthAdjust="spacingAndGlyphs">136</text>
<text x="407.28" y="758.5" font-size="10.5" text-anchor="middle" fill="#2a2a2a" textLength="16.8" lengthAdjust="spacingAndGlyphs">133</text>
<text x="445.6" y="758.5" font-size="10.5" text-anchor="middle" fill="#2a2a2a" textLength="16.8" lengthAdjust="spacingAndGlyphs">131</text>
<text x="483.92" y="758.5" font-size="10.5" text-anchor="middle" fill="#2a2a2a" textLength="16.8" lengthAdjust="spacingAndGlyphs">127</text>
<text x="522.24" y="758.5" font-size="10.5" text-anchor="middle" fill="#2a2a2a" textLength="16.8" lengthAdjust="spacingAndGlyphs">125</text>
<text x="560.56" y="758.5" font-size="10.5" text-anchor="middle" fill="#2a2a2a" textLength="16.8" lengthAdjust="spacingAndGlyphs">121</text>
<text x="598.88" y="758.5" font-size="10.5" text-anchor="middle" fill="#2a2a2a" textLength="16.8" lengthAdjust="spacingAndGlyphs">117</text>
<text x="637.2" y="758.5" font-size="10.5" text-anchor="middle" fill="#2a2a2a" textLength="16.8" lengthAdjust="spacingAndGlyphs">107</text>
<text x="675.52" y="758.5" font-size="10.5" text-anchor="middle" fill="#2a2a2a" textLength="16.8" lengthAdjust="spacingAndGlyphs">103</text>
<text x="713.84" y="758.5" font-size="10.5" text-anchor="middle" fill="#2a2a2a" textLength="11.2" lengthAdjust="spacingAndGlyphs">78</text>
<text x="330.4" y="717.5" font-size="9" text-anchor="middle" fill="#2a2a2a" textLength="6.5" lengthAdjust="spacingAndGlyphs">H</text>
<text x="330.4" y="730" font-size="9" text-anchor="middle" fill="#2a2a2a" textLength="14" lengthAdjust="spacingAndGlyphs">(m)</text>
<text x="58.4" y="779" font-size="9" text-anchor="start" fill="#888" textLength="53.5" lengthAdjust="spacingAndGlyphs">water...is life</text>
<text x="389" y="779" font-size="9" text-anchor="middle" fill="#888" textLength="15" lengthAdjust="spacingAndGlyphs">156</text>
<text x="731.9" y="779" font-size="9" text-anchor="end" fill="#888" textLength="253" lengthAdjust="spacingAndGlyphs">© Speroni S.p.A., Castelnovo di Sotto (Reggio Emilia), 2020</text>
</svg></body></html>
